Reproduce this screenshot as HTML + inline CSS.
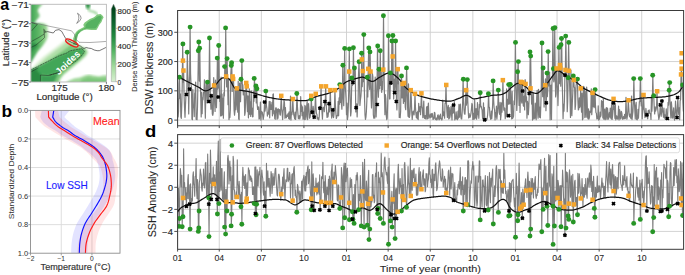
<!DOCTYPE html><html><head><meta charset="utf-8"><title>figure</title><style>html,body{margin:0;padding:0;background:#fff;width:685px;height:275px;overflow:hidden}svg{display:block}</style></head><body>
<svg width="685" height="275" viewBox="0 0 685 275" font-family='"Liberation Sans", sans-serif'>
<defs>
<clipPath id="cc"><rect x="177.6" y="10.5" width="506.0" height="115.3"/></clipPath>
<clipPath id="cd"><rect x="177.6" y="134.6" width="506.0" height="114.70000000000002"/></clipPath>
</defs>
<line x1="177.6" y1="10.5" x2="177.6" y2="125.8" stroke="#cecece" stroke-width="0.9"/>
<line x1="219.25" y1="10.5" x2="219.25" y2="125.8" stroke="#cecece" stroke-width="0.9"/>
<line x1="261.36" y1="10.5" x2="261.36" y2="125.8" stroke="#cecece" stroke-width="0.9"/>
<line x1="303.93" y1="10.5" x2="303.93" y2="125.8" stroke="#cecece" stroke-width="0.9"/>
<line x1="346.5" y1="10.5" x2="346.5" y2="125.8" stroke="#cecece" stroke-width="0.9"/>
<line x1="388.15" y1="10.5" x2="388.15" y2="125.8" stroke="#cecece" stroke-width="0.9"/>
<line x1="430.26" y1="10.5" x2="430.26" y2="125.8" stroke="#cecece" stroke-width="0.9"/>
<line x1="472.83" y1="10.5" x2="472.83" y2="125.8" stroke="#cecece" stroke-width="0.9"/>
<line x1="515.4" y1="10.5" x2="515.4" y2="125.8" stroke="#cecece" stroke-width="0.9"/>
<line x1="557.05" y1="10.5" x2="557.05" y2="125.8" stroke="#cecece" stroke-width="0.9"/>
<line x1="599.16" y1="10.5" x2="599.16" y2="125.8" stroke="#cecece" stroke-width="0.9"/>
<line x1="641.73" y1="10.5" x2="641.73" y2="125.8" stroke="#cecece" stroke-width="0.9"/>
<line x1="177.6" y1="120.1" x2="683.6" y2="120.1" stroke="#cecece" stroke-width="0.9"/>
<line x1="177.6" y1="90.83" x2="683.6" y2="90.83" stroke="#cecece" stroke-width="0.9"/>
<line x1="177.6" y1="61.56" x2="683.6" y2="61.56" stroke="#cecece" stroke-width="0.9"/>
<line x1="177.6" y1="32.29" x2="683.6" y2="32.29" stroke="#cecece" stroke-width="0.9"/>
<line x1="177.6" y1="134.6" x2="177.6" y2="249.3" stroke="#cecece" stroke-width="0.9"/>
<line x1="219.25" y1="134.6" x2="219.25" y2="249.3" stroke="#cecece" stroke-width="0.9"/>
<line x1="261.36" y1="134.6" x2="261.36" y2="249.3" stroke="#cecece" stroke-width="0.9"/>
<line x1="303.93" y1="134.6" x2="303.93" y2="249.3" stroke="#cecece" stroke-width="0.9"/>
<line x1="346.5" y1="134.6" x2="346.5" y2="249.3" stroke="#cecece" stroke-width="0.9"/>
<line x1="388.15" y1="134.6" x2="388.15" y2="249.3" stroke="#cecece" stroke-width="0.9"/>
<line x1="430.26" y1="134.6" x2="430.26" y2="249.3" stroke="#cecece" stroke-width="0.9"/>
<line x1="472.83" y1="134.6" x2="472.83" y2="249.3" stroke="#cecece" stroke-width="0.9"/>
<line x1="515.4" y1="134.6" x2="515.4" y2="249.3" stroke="#cecece" stroke-width="0.9"/>
<line x1="557.05" y1="134.6" x2="557.05" y2="249.3" stroke="#cecece" stroke-width="0.9"/>
<line x1="599.16" y1="134.6" x2="599.16" y2="249.3" stroke="#cecece" stroke-width="0.9"/>
<line x1="641.73" y1="134.6" x2="641.73" y2="249.3" stroke="#cecece" stroke-width="0.9"/>
<line x1="177.6" y1="231.42" x2="683.6" y2="231.42" stroke="#cecece" stroke-width="0.9"/>
<line x1="177.6" y1="209.36" x2="683.6" y2="209.36" stroke="#cecece" stroke-width="0.9"/>
<line x1="177.6" y1="187.3" x2="683.6" y2="187.3" stroke="#cecece" stroke-width="0.9"/>
<line x1="177.6" y1="165.24" x2="683.6" y2="165.24" stroke="#cecece" stroke-width="0.9"/>
<line x1="177.6" y1="143.18" x2="683.6" y2="143.18" stroke="#cecece" stroke-width="0.9"/>
<g clip-path="url(#cc)"><polyline points="177.60,98.21 178.06,116.94 178.53,111.52 178.99,84.15 179.45,77.20 179.91,98.65 180.38,93.94 180.84,116.82 181.30,118.37 181.76,104.88 182.23,85.85 182.69,44.00 183.15,82.05 183.62,70.50 184.08,95.30 184.54,107.70 185.00,117.28 185.47,105.04 185.93,96.10 186.39,94.50 186.85,89.54 187.32,52.20 187.78,74.12 188.24,81.95 188.71,113.90 189.17,88.56 189.63,78.25 190.09,27.10 190.56,73.60 191.02,84.35 191.48,87.46 191.94,119.07 192.41,119.66 192.87,89.51 193.33,107.74 193.80,105.05 194.26,116.61 194.72,93.38 195.18,92.08 195.65,82.12 196.11,119.30 196.57,116.02 197.04,119.63 197.50,106.22 197.96,80.30 198.42,50.70 198.89,42.00 199.35,81.05 199.81,48.20 200.27,84.15 200.74,97.17 201.20,116.91 201.66,92.25 202.13,113.64 202.59,97.79 203.05,99.80 203.51,92.56 203.98,92.33 204.44,79.85 204.90,101.40 205.36,118.26 205.83,91.15 206.29,81.68 206.75,87.77 207.22,103.00 207.68,82.10 208.14,101.10 208.60,101.50 209.07,83.16 209.53,38.00 209.99,79.05 210.45,99.57 210.92,109.16 211.38,95.80 211.84,94.21 212.31,114.02 212.77,115.36 213.23,112.64 213.69,77.64 214.16,85.40 214.62,101.98 215.08,111.42 215.54,80.19 216.01,94.99 216.47,107.70 216.93,92.20 217.40,58.10 217.86,89.10 218.32,86.53 218.78,45.50 219.25,82.80 219.71,101.45 220.17,95.26 220.63,115.93 221.10,77.00 221.56,115.76 222.02,94.08 222.49,114.95 222.95,98.39 223.41,118.14 223.87,92.48 224.34,96.03 224.80,66.60 225.26,78.61 225.72,27.90 226.19,74.00 226.65,86.98 227.11,58.60 227.58,80.50 228.04,104.72 228.50,79.33 228.96,119.61 229.43,116.59 229.89,117.41 230.35,109.18 230.82,73.71 231.28,65.50 231.74,62.80 232.20,91.45 232.67,76.40 233.13,78.90 233.59,82.16 234.05,109.80 234.52,115.22 234.98,111.23 235.44,87.11 235.91,109.63 236.37,99.76 236.83,88.30 237.29,104.20 237.76,112.15 238.22,81.13 238.68,118.83 239.14,119.78 239.61,83.01 240.07,101.51 240.53,101.69 241.00,79.20 241.46,83.52 241.92,60.60 242.38,90.35 242.85,84.79 243.31,94.87 243.77,92.64 244.23,91.02 244.70,115.29 245.16,112.66 245.62,99.39 246.09,82.90 246.55,86.30 247.01,103.20 247.47,111.65 247.94,95.96 248.40,117.84 248.86,110.02 249.32,88.90 249.79,114.28 250.25,102.21 250.71,116.41 251.18,90.86 251.64,114.13 252.10,108.16 252.56,116.83 253.03,116.68 253.49,91.77 253.95,101.34 254.41,78.40 254.88,89.10 255.34,96.30 255.80,85.90 256.27,103.00 256.73,88.80 257.19,104.45 257.65,109.40 258.12,108.38 258.58,106.89 259.04,119.06 259.50,118.65 259.97,111.58 260.43,101.98 260.89,120.08 261.36,111.46 261.82,113.52 262.28,112.03 262.74,115.78 263.21,119.34 263.67,116.48 264.13,111.95 264.60,102.00 265.06,111.05 265.52,107.05 265.98,91.10 266.45,105.60 266.91,108.50 267.37,116.05 267.83,112.73 268.30,114.31 268.76,109.44 269.22,101.45 269.69,117.79 270.15,101.72 270.61,109.41 271.07,105.15 271.54,109.28 272.00,102.26 272.46,115.78 272.92,94.49 273.39,93.97 273.85,113.81 274.31,110.66 274.78,118.67 275.24,119.25 275.70,108.06 276.16,107.80 276.63,110.69 277.09,119.18 277.55,108.99 278.01,118.12 278.48,108.83 278.94,111.07 279.40,109.66 279.87,114.15 280.33,115.24 280.79,107.81 281.25,95.80 281.72,107.37 282.18,114.02 282.64,119.56 283.10,111.24 283.57,108.90 284.03,100.02 284.49,102.96 284.96,118.29 285.42,107.57 285.88,116.95 286.34,117.75 286.81,115.21 287.27,116.49 287.73,114.73 288.19,113.43 288.66,118.57 289.12,111.86 289.58,119.14 290.05,115.81 290.51,96.08 290.97,120.05 291.43,112.37 291.90,114.67 292.36,110.61 292.82,99.00 293.28,109.55 293.75,114.82 294.21,116.27 294.67,118.81 295.14,112.20 295.60,119.40 296.06,114.78 296.52,108.13 296.99,93.50 297.45,106.80 297.91,113.45 298.38,118.75 298.84,116.84 299.30,115.72 299.76,118.82 300.23,116.93 300.69,96.72 301.15,111.44 301.61,105.03 302.08,115.61 302.54,106.75 303.00,119.17 303.47,112.10 303.93,114.20 304.39,119.60 304.85,105.45 305.32,106.30 305.78,119.42 306.24,116.46 306.70,106.16 307.17,101.32 307.63,119.57 308.09,105.71 308.56,103.61 309.02,109.50 309.48,118.26 309.94,117.55 310.41,115.24 310.87,109.16 311.33,99.00 311.79,107.95 312.26,112.20 312.72,116.15 313.18,106.31 313.65,112.74 314.11,117.10 314.57,114.84 315.03,107.36 315.50,93.80 315.96,106.95 316.42,113.52 316.88,114.05 317.35,119.04 317.81,117.54 318.27,118.42 318.74,119.91 319.20,116.97 319.66,107.22 320.12,108.20 320.59,104.23 321.05,86.30 321.51,103.20 321.97,111.65 322.44,119.04 322.90,108.19 323.36,107.25 323.83,107.24 324.29,111.73 324.75,101.50 325.21,104.89 325.68,86.30 326.14,103.20 326.60,111.65 327.06,117.48 327.53,113.10 327.99,116.82 328.45,112.72 328.92,103.70 329.38,111.90 329.84,106.60 330.30,90.10 330.77,105.10 331.23,112.60 331.69,118.06 332.16,115.09 332.62,109.90 333.08,115.00 333.54,117.55 334.01,114.10 334.47,106.60 334.93,90.10 335.39,105.10 335.86,112.60 336.32,118.51 336.78,117.04 337.25,115.44 337.71,115.50 338.17,101.26 338.63,115.81 339.10,97.75 339.56,104.12 340.02,84.60 340.48,102.35 340.95,86.30 341.41,103.20 341.87,109.14 342.34,95.44 342.80,65.30 343.26,92.70 343.72,105.76 344.19,87.84 344.65,48.40 345.11,84.25 345.57,90.76 346.04,98.53 346.50,114.61 346.96,102.98 347.43,119.60 347.89,116.49 348.35,105.86 348.81,88.06 349.28,48.90 349.74,84.50 350.20,102.30 350.66,115.94 351.13,111.66 351.59,89.09 352.05,77.90 352.52,85.45 352.98,82.40 353.44,47.70 353.90,83.90 354.37,68.00 354.83,73.96 355.29,70.53 355.75,111.90 356.22,107.70 356.68,103.75 357.14,117.00 357.61,105.53 358.07,103.07 358.53,74.41 358.99,61.80 359.46,78.33 359.92,105.52 360.38,99.96 360.84,96.67 361.31,90.00 361.77,53.20 362.23,86.65 362.70,71.00 363.16,81.62 363.62,34.60 364.08,77.35 364.55,98.72 365.01,115.06 365.47,119.43 365.94,117.21 366.40,111.52 366.86,100.79 367.32,77.20 367.79,97.01 368.25,68.80 368.71,48.00 369.17,84.05 369.64,89.41 370.10,51.90 370.56,71.50 371.03,95.80 371.49,107.95 371.95,97.72 372.41,73.66 372.88,76.74 373.34,114.55 373.80,118.07 374.26,115.90 374.73,118.14 375.19,77.04 375.65,86.07 376.12,116.98 376.58,105.28 377.04,86.75 377.50,46.00 377.97,83.05 378.43,97.24 378.89,69.30 379.35,85.28 379.82,88.87 380.28,50.70 380.74,85.40 381.21,72.03 381.67,92.36 382.13,81.82 382.59,89.37 383.06,69.60 383.52,15.70 383.98,67.90 384.44,94.00 384.91,114.65 385.37,94.52 385.83,98.80 386.30,115.99 386.76,119.58 387.22,117.98 387.68,103.24 388.15,82.16 388.61,35.80 389.07,77.95 389.53,99.02 390.00,98.86 390.46,72.90 390.92,82.90 391.39,84.50 391.85,41.00 392.31,80.55 392.77,35.50 393.24,77.80 393.70,98.95 394.16,79.10 394.62,92.60 395.09,84.50 395.55,41.00 396.01,80.55 396.48,100.32 396.94,109.90 397.40,68.91 397.86,69.10 398.33,83.81 398.79,81.64 399.25,117.48 399.72,116.91 400.18,117.81 400.64,111.26 401.10,79.26 401.57,75.90 402.03,98.00 402.49,83.90 402.95,90.79 403.42,103.36 403.88,82.90 404.34,101.50 404.81,87.88 405.27,107.18 405.73,109.66 406.19,81.70 406.66,67.90 407.12,94.00 407.58,107.05 408.04,116.30 408.51,83.89 408.97,117.36 409.43,117.43 409.90,114.10 410.36,106.60 410.82,90.10 411.28,97.72 411.75,112.60 412.21,119.42 412.67,114.43 413.13,111.03 413.60,112.08 414.06,114.84 414.52,108.27 414.99,93.80 415.45,106.95 415.91,113.52 416.37,117.66 416.84,112.48 417.30,118.74 417.76,111.30 418.22,119.55 418.69,103.23 419.15,111.32 419.61,111.68 420.08,106.51 420.54,114.74 421.00,104.76 421.46,93.30 421.93,106.70 422.39,108.58 422.85,117.76 423.31,109.39 423.78,101.09 424.24,117.48 424.70,118.39 425.17,115.51 425.63,118.52 426.09,119.06 426.55,107.34 427.02,106.52 427.48,118.78 427.94,108.37 428.40,103.02 428.87,118.33 429.33,117.12 429.79,116.71 430.26,114.16 430.72,117.79 431.18,113.73 431.64,116.93 432.11,113.25 432.57,114.92 433.03,119.47 433.50,117.87 433.96,118.79 434.42,112.38 434.88,112.93 435.35,119.06 435.81,119.52 436.27,119.89 436.73,117.81 437.20,119.79 437.66,115.35 438.12,114.76 438.59,118.42 439.05,119.85 439.51,115.77 439.97,119.06 440.44,114.21 440.90,118.34 441.36,118.53 441.82,120.03 442.29,118.48 442.75,100.03 443.21,115.66 443.68,111.94 444.14,114.46 444.60,118.13 445.06,103.17 445.53,103.29 445.99,84.90 446.45,102.50 446.91,111.30 447.38,117.42 447.84,107.93 448.30,105.32 448.77,118.87 449.23,107.66 449.69,118.12 450.15,115.86 450.62,110.56 451.08,106.29 451.54,114.71 452.00,120.02 452.47,104.41 452.93,113.30 453.39,105.00 453.86,112.55 454.32,101.50 454.78,119.90 455.24,118.79 455.71,118.65 456.17,111.78 456.63,118.30 457.09,119.44 457.56,119.65 458.02,111.13 458.48,118.07 458.95,104.42 459.41,117.22 459.87,108.00 460.33,104.02 460.80,116.55 461.26,118.99 461.72,119.02 462.18,111.92 462.65,101.69 463.11,79.20 463.57,99.65 464.04,109.88 464.50,113.85 464.96,114.10 465.42,106.60 465.89,90.10 466.35,105.10 466.81,101.88 467.28,79.60 467.74,99.85 468.20,109.97 468.66,118.01 469.13,113.57 469.59,116.74 470.05,117.37 470.51,115.75 470.98,113.30 471.44,109.31 471.90,103.44 472.37,104.59 472.83,119.46 473.29,113.29 473.75,119.25 474.22,119.21 474.68,99.92 475.14,118.15 475.60,117.38 476.07,108.72 476.53,119.21 476.99,116.44 477.46,102.68 477.92,114.65 478.38,111.65 478.84,118.30 479.31,104.35 479.77,107.81 480.23,92.80 480.69,106.45 481.16,106.14 481.62,108.42 482.08,110.14 482.55,118.19 483.01,119.07 483.47,102.82 483.93,119.10 484.40,107.55 484.86,119.80 485.32,119.73 485.78,118.88 486.25,118.83 486.71,119.94 487.17,118.49 487.64,114.84 488.10,108.27 488.56,93.80 489.02,106.95 489.49,107.56 489.95,115.89 490.41,118.08 490.87,119.45 491.34,111.08 491.80,118.37 492.26,112.26 492.73,102.46 493.19,80.90 493.65,100.50 494.11,107.76 494.58,109.93 495.04,119.91 495.50,112.76 495.96,116.85 496.43,106.21 496.89,119.06 497.35,114.10 497.82,106.60 498.28,90.10 498.74,105.06 499.20,112.60 499.67,114.44 500.13,102.43 500.59,119.64 501.06,115.41 501.52,102.73 501.98,112.10 502.44,102.10 502.91,80.10 503.37,100.10 503.83,109.97 504.29,110.52 504.76,107.98 505.22,118.76 505.68,114.16 506.15,116.12 506.61,88.92 507.07,116.88 507.53,99.58 508.00,99.27 508.46,104.12 508.92,84.60 509.38,102.35 509.85,104.03 510.31,84.40 510.77,93.37 511.24,111.17 511.70,118.95 512.16,91.43 512.62,118.39 513.09,117.51 513.55,116.01 514.01,100.94 514.47,104.56 514.94,85.13 515.40,42.40 515.86,81.25 516.33,93.94 516.79,110.44 517.25,98.36 517.71,71.80 518.18,61.60 518.64,90.85 519.10,105.47 519.56,81.61 520.03,112.44 520.49,91.15 520.95,81.80 521.42,100.95 521.88,103.09 522.34,82.30 522.80,91.00 523.27,105.55 523.73,106.30 524.19,96.05 524.65,110.01 525.12,79.68 525.58,83.90 526.04,102.00 526.51,96.94 526.97,118.23 527.43,101.45 527.89,104.15 528.36,114.74 528.82,106.81 529.28,93.30 529.74,89.41 530.21,51.90 530.67,56.10 531.13,88.10 531.60,104.10 532.06,91.66 532.52,120.05 532.98,114.87 533.45,92.90 533.91,119.10 534.37,117.84 534.84,118.17 535.30,103.15 535.76,116.42 536.22,119.66 536.69,97.87 537.15,90.23 537.61,110.51 538.07,118.25 538.54,89.33 539.00,106.54 539.46,117.25 539.93,106.99 540.39,117.81 540.85,104.68 541.31,85.41 541.78,43.00 542.24,81.55 542.70,96.66 543.16,68.00 543.63,94.05 544.09,107.07 544.55,89.63 545.02,85.20 545.48,78.96 545.94,110.70 546.40,98.95 546.87,73.10 547.33,96.60 547.79,89.27 548.25,51.60 548.72,85.85 549.18,80.34 549.64,72.08 550.11,119.86 550.57,86.95 551.03,85.12 551.49,119.56 551.96,81.83 552.42,78.88 552.88,28.50 553.34,68.80 553.81,81.80 554.27,78.52 554.73,27.70 555.20,73.90 555.66,97.00 556.12,93.97 556.58,68.40 557.05,84.74 557.51,87.73 557.97,105.56 558.43,87.38 558.90,47.40 559.36,83.75 559.82,65.00 560.29,68.10 560.75,86.22 561.21,44.80 561.67,38.50 562.14,79.30 562.60,96.32 563.06,118.65 563.52,104.43 563.99,111.12 564.45,99.89 564.91,75.20 565.38,69.90 565.84,36.10 566.30,66.86 566.76,83.02 567.23,111.64 567.69,101.06 568.15,77.80 568.62,42.40 569.08,68.84 569.54,82.43 570.00,96.65 570.47,117.46 570.93,70.20 571.39,108.62 571.85,115.68 572.32,103.06 572.78,92.91 573.24,76.00 573.71,79.90 574.17,87.16 574.63,87.59 575.09,109.52 575.56,104.93 576.02,86.03 576.48,82.63 576.94,84.18 577.41,79.10 577.87,99.60 578.33,109.85 578.80,109.02 579.26,97.90 579.72,107.41 580.18,105.79 580.65,88.30 581.11,104.20 581.57,112.15 582.03,92.98 582.50,119.82 582.96,118.84 583.42,86.27 583.89,95.38 584.35,87.13 584.81,117.61 585.27,91.44 585.74,108.07 586.20,117.25 586.66,87.12 587.12,99.91 587.59,117.08 588.05,118.84 588.51,108.84 588.98,119.11 589.44,117.16 589.90,111.01 590.36,112.72 590.83,110.67 591.29,88.82 591.75,114.64 592.21,107.81 592.68,92.80 593.14,106.45 593.60,94.53 594.07,107.71 594.53,106.38 594.99,89.60 595.45,104.85 595.92,112.47 596.38,113.30 596.84,119.02 597.30,118.27 597.77,118.60 598.23,105.84 598.69,120.04 599.16,117.49 599.62,119.06 600.08,111.98 600.54,116.86 601.01,114.98 601.47,100.55 601.93,106.10 602.40,101.72 602.86,117.95 603.32,98.54 603.78,119.14 604.25,118.91 604.71,109.17 605.17,119.74 605.63,118.63 606.10,108.21 606.56,107.69 607.02,119.45 607.49,108.01 607.95,113.91 608.41,119.14 608.87,117.49 609.34,112.51 609.80,116.82 610.26,107.98 610.72,118.04 611.19,118.76 611.65,102.14 612.11,119.38 612.58,115.84 613.04,110.52 613.50,98.80 613.96,109.45 614.43,105.99 614.89,118.35 615.35,103.99 615.81,119.86 616.28,118.34 616.74,115.86 617.20,118.43 617.67,119.03 618.13,116.48 618.59,106.21 619.05,120.01 619.52,109.66 619.98,111.58 620.44,118.87 620.90,118.72 621.37,111.46 621.83,112.84 622.29,117.30 622.76,119.41 623.22,118.46 623.68,116.50 624.14,118.64 624.61,114.27 625.07,118.77 625.53,117.97 625.99,97.35 626.46,113.64 626.92,119.22 627.38,116.12 627.85,110.48 628.31,100.20 628.77,107.97 629.23,115.12 629.70,116.91 630.16,114.04 630.62,118.26 631.08,118.33 631.55,96.13 632.01,119.53 632.47,115.77 632.94,111.80 633.40,101.42 633.86,78.60 634.32,99.35 634.79,109.72 635.25,118.86 635.71,106.13 636.18,102.47 636.64,119.47 637.10,119.81 637.56,119.06 638.03,109.25 638.49,118.20 638.95,108.33 639.41,101.49 639.88,101.42 640.34,78.60 640.80,99.35 641.27,105.91 641.73,93.70 642.19,118.80 642.65,110.43 643.12,108.76 643.58,94.90 644.04,107.50 644.50,113.15 644.97,117.65 645.43,116.21 645.89,108.44 646.36,113.49 646.82,114.90 647.28,117.50 647.74,118.80 648.21,110.67 648.67,112.14 649.13,109.78 649.59,113.03 650.06,113.56 650.52,113.87 650.98,119.48 651.45,95.81 651.91,111.12 652.37,99.89 652.83,75.20 653.30,97.65 653.76,95.70 654.22,107.90 654.68,114.00 655.15,106.95 655.61,111.22 656.07,109.42 656.54,107.09 657.00,91.20 657.46,105.65 657.92,111.27 658.39,115.57 658.85,119.51 659.31,117.06 659.77,113.26 660.24,104.90 660.70,112.50 661.16,116.28 661.63,111.50 662.09,101.00 662.55,110.55 663.01,113.15 663.48,117.06 663.94,108.12 664.40,118.02 664.86,114.88 665.33,119.52 665.79,118.30 666.25,108.88 666.72,116.32 667.18,118.50 667.64,115.37 668.10,102.29 668.57,105.07 669.03,90.20 669.49,82.60 669.96,101.35 670.42,110.72 670.88,118.06 671.34,101.73 671.81,107.41 672.27,118.06 672.73,118.02 673.19,112.18 673.66,107.89 674.12,117.93 674.58,120.09 675.05,115.70 675.51,101.01 675.97,108.57 676.43,113.28 676.90,117.50 677.36,109.93 677.82,97.50 678.28,108.80 678.75,114.45 679.21,107.79 679.67,119.62 680.14,100.83 680.60,99.53 681.06,74.40 681.52,68.60 681.99,86.65 682.45,84.90 682.91,102.50 683.37,111.30 683.84,111.50" fill="none" stroke="#7d7d7d" stroke-width="1.2" stroke-linejoin="round"/></g>
<g clip-path="url(#cd)"><polyline points="177.60,184.42 178.06,206.94 178.53,188.37 178.99,226.40 179.45,218.50 179.91,189.43 180.38,168.62 180.84,174.25 181.30,186.78 181.76,175.34 182.23,226.70 182.69,202.41 183.15,216.70 183.62,148.70 184.08,187.32 184.54,182.50 185.00,195.23 185.47,199.74 185.93,187.47 186.39,206.30 186.85,193.13 187.32,198.51 187.78,179.91 188.24,174.52 188.71,198.65 189.17,184.75 189.63,204.10 190.09,229.10 190.56,183.85 191.02,199.95 191.48,204.31 191.94,198.56 192.41,200.89 192.87,176.17 193.33,171.77 193.80,183.94 194.26,186.08 194.72,196.25 195.18,176.52 195.65,175.91 196.11,158.50 196.57,190.45 197.04,198.58 197.50,179.62 197.96,186.60 198.42,231.40 198.89,227.90 199.35,182.47 199.81,179.58 200.27,169.12 200.74,173.01 201.20,175.29 201.66,187.83 202.13,191.14 202.59,182.98 203.05,185.52 203.51,169.03 203.98,179.63 204.44,188.07 204.90,182.86 205.36,163.12 205.83,162.44 206.29,186.63 206.75,197.17 207.22,196.83 207.68,154.00 208.14,176.32 208.60,197.90 209.07,236.60 209.53,173.30 209.99,183.36 210.45,150.00 210.92,167.63 211.38,199.40 211.84,194.31 212.31,178.08 212.77,185.60 213.23,166.89 213.69,184.00 214.16,175.97 214.62,174.70 215.08,194.86 215.54,183.88 216.01,176.88 216.47,161.26 216.93,199.40 217.40,214.00 217.86,156.17 218.32,141.00 218.78,203.60 219.25,172.37 219.71,191.43 220.17,139.50 220.63,182.37 221.10,190.10 221.56,168.50 222.02,168.49 222.49,198.77 222.95,199.23 223.41,200.57 223.87,181.71 224.34,171.72 224.80,227.10 225.26,189.29 225.72,234.10 226.19,201.80 226.65,189.25 227.11,211.00 227.58,158.66 228.04,155.25 228.50,160.97 228.96,183.88 229.43,167.41 229.89,161.14 230.35,180.78 230.82,167.06 231.28,225.90 231.74,214.20 232.20,175.70 232.67,202.30 233.13,156.42 233.59,161.63 234.05,189.63 234.52,190.20 234.98,198.76 235.44,195.82 235.91,198.29 236.37,191.68 236.83,196.90 237.29,159.75 237.76,184.39 238.22,185.24 238.68,194.78 239.14,181.20 239.61,189.53 240.07,204.12 240.53,194.87 241.00,206.80 241.46,192.20 241.92,224.20 242.38,178.95 242.85,167.31 243.31,176.37 243.77,185.50 244.23,175.96 244.70,188.41 245.16,179.96 245.62,174.58 246.09,201.80 246.55,198.60 247.01,182.70 247.47,195.39 247.94,183.11 248.40,167.89 248.86,170.06 249.32,170.34 249.79,180.31 250.25,177.24 250.71,175.94 251.18,181.36 251.64,177.97 252.10,181.64 252.56,194.39 253.03,194.53 253.49,186.77 253.95,191.62 254.41,203.60 254.88,167.09 255.34,213.50 255.80,166.85 256.27,214.70 256.73,204.30 257.19,169.88 257.65,182.45 258.12,186.13 258.58,174.51 259.04,171.67 259.50,174.90 259.97,167.38 260.43,188.58 260.89,201.29 261.36,176.45 261.82,170.01 262.28,175.76 262.74,178.49 263.21,191.94 263.67,195.20 264.13,181.73 264.60,206.10 265.06,191.13 265.52,200.69 265.98,216.20 266.45,163.39 266.91,187.04 267.37,183.43 267.83,170.80 268.30,186.97 268.76,178.96 269.22,178.41 269.69,189.00 270.15,196.32 270.61,185.25 271.07,171.58 271.54,174.99 272.00,193.54 272.46,186.19 272.92,173.57 273.39,185.28 273.85,176.97 274.31,184.98 274.78,174.05 275.24,168.91 275.70,168.26 276.16,179.89 276.63,187.84 277.09,194.96 277.55,195.89 278.01,186.43 278.48,174.62 278.94,174.12 279.40,176.31 279.87,188.25 280.33,195.66 280.79,200.29 281.25,194.10 281.72,187.04 282.18,191.55 282.64,177.04 283.10,188.74 283.57,175.02 284.03,168.43 284.49,187.29 284.96,199.33 285.42,187.83 285.88,179.83 286.34,181.73 286.81,180.45 287.27,168.38 287.73,168.39 288.19,181.68 288.66,178.37 289.12,180.00 289.58,172.36 290.05,176.38 290.51,198.04 290.97,183.54 291.43,183.98 291.90,174.57 292.36,173.77 292.82,200.60 293.28,175.40 293.75,168.95 294.21,166.54 294.67,177.90 295.14,195.71 295.60,190.41 296.06,197.41 296.52,196.48 296.99,212.30 297.45,184.39 297.91,186.11 298.38,192.11 298.84,195.45 299.30,201.80 299.76,191.03 300.23,194.76 300.69,202.55 301.15,200.00 301.61,181.34 302.08,180.99 302.54,199.06 303.00,179.76 303.47,178.08 303.93,175.40 304.39,186.54 304.85,191.06 305.32,176.67 305.78,190.89 306.24,172.60 306.70,184.86 307.17,171.88 307.63,167.48 308.09,165.89 308.56,183.76 309.02,177.78 309.48,169.31 309.94,182.38 310.41,192.79 310.87,196.97 311.33,209.80 311.79,161.90 312.26,206.10 312.72,177.95 313.18,173.81 313.65,182.37 314.11,210.30 314.57,186.51 315.03,190.20 315.50,189.90 315.96,178.15 316.42,189.24 316.88,194.92 317.35,183.08 317.81,193.08 318.27,188.76 318.74,182.09 319.20,194.12 319.66,174.90 320.12,209.80 320.59,201.21 321.05,201.80 321.51,176.91 321.97,176.83 322.44,178.74 322.90,162.21 323.36,187.55 323.83,192.61 324.29,181.76 324.75,206.10 325.21,175.54 325.68,185.44 326.14,202.80 326.60,198.43 327.06,187.00 327.53,192.94 327.99,194.71 328.45,179.18 328.92,210.50 329.38,176.17 329.84,178.74 330.30,188.25 330.77,202.80 331.23,171.81 331.69,169.52 332.16,164.11 332.62,206.10 333.08,177.27 333.54,181.13 334.01,172.10 334.47,182.00 334.93,177.03 335.39,165.60 335.86,172.29 336.32,177.03 336.78,185.66 337.25,200.09 337.71,200.90 338.17,184.92 338.63,185.14 339.10,203.10 339.56,201.75 340.02,208.50 340.48,204.96 340.95,197.40 341.41,167.63 341.87,173.11 342.34,176.17 342.80,227.90 343.26,189.78 343.72,167.94 344.19,162.96 344.65,217.70 345.11,169.67 345.57,163.18 346.04,181.65 346.50,176.79 346.96,168.74 347.43,168.20 347.89,182.30 348.35,202.98 348.81,206.94 349.28,219.70 349.74,189.02 350.20,177.79 350.66,187.53 351.13,182.58 351.59,179.23 352.05,192.13 352.52,211.80 352.98,219.20 353.44,194.51 353.90,223.40 354.37,206.93 354.83,184.57 355.29,211.80 355.75,187.32 356.22,175.37 356.68,180.07 357.14,172.55 357.61,177.14 358.07,192.21 358.53,209.80 358.99,194.37 359.46,200.70 359.92,192.64 360.38,175.53 360.84,200.38 361.31,225.90 361.77,205.10 362.23,191.40 362.70,162.25 363.16,170.25 363.62,197.03 364.08,227.10 364.55,159.27 365.01,190.37 365.47,199.56 365.94,200.72 366.40,180.94 366.86,188.84 367.32,225.20 367.79,203.80 368.25,178.19 368.71,170.31 369.17,239.60 369.64,229.10 370.10,197.51 370.56,198.60 371.03,206.94 371.49,199.97 371.95,201.98 372.41,174.68 372.88,174.53 373.34,197.84 373.80,195.02 374.26,202.73 374.73,201.10 375.19,177.52 375.65,173.02 376.12,176.34 376.58,162.92 377.04,209.30 377.50,213.50 377.97,208.50 378.43,171.95 378.89,182.51 379.35,177.91 379.82,184.67 380.28,218.50 380.74,186.37 381.21,152.00 381.67,176.61 382.13,172.57 382.59,176.07 383.06,192.40 383.52,223.40 383.98,169.35 384.44,158.92 384.91,157.00 385.37,168.58 385.83,170.92 386.30,174.97 386.76,172.52 387.22,180.54 387.68,183.65 388.15,167.00 388.61,244.30 389.07,158.30 389.53,187.44 390.00,199.68 390.46,220.90 390.92,214.70 391.39,203.34 391.85,191.41 392.31,227.10 392.77,199.40 393.24,203.49 393.70,184.96 394.16,173.73 394.62,218.50 395.09,238.60 395.55,190.44 396.01,188.11 396.48,218.50 396.94,188.90 397.40,211.80 397.86,173.88 398.33,164.22 398.79,178.97 399.25,193.67 399.72,186.34 400.18,178.65 400.64,186.99 401.10,185.47 401.57,211.00 402.03,168.58 402.49,196.40 402.95,187.65 403.42,184.60 403.88,199.90 404.34,164.68 404.81,162.43 405.27,174.30 405.73,189.90 406.19,201.36 406.66,207.30 407.12,190.70 407.58,184.42 408.04,166.63 408.51,182.07 408.97,185.12 409.43,194.77 409.90,181.51 410.36,158.39 410.82,195.90 411.28,180.22 411.75,170.41 412.21,190.19 412.67,173.35 413.13,169.82 413.60,177.70 414.06,168.25 414.52,183.98 414.99,184.20 415.45,180.09 415.91,174.09 416.37,194.48 416.84,195.44 417.30,184.33 417.76,194.91 418.22,187.85 418.69,173.12 419.15,167.50 419.61,183.32 420.08,188.92 420.54,171.85 421.00,190.05 421.46,189.20 421.93,185.58 422.39,176.98 422.85,173.25 423.31,169.70 423.78,185.01 424.24,185.21 424.70,178.86 425.17,191.77 425.63,190.20 426.09,173.51 426.55,177.79 427.02,173.71 427.48,186.64 427.94,181.71 428.40,179.42 428.87,163.62 429.33,157.78 429.79,174.18 430.26,175.31 430.72,182.44 431.18,179.24 431.64,187.82 432.11,170.07 432.57,169.26 433.03,193.58 433.50,197.50 433.96,174.15 434.42,176.82 434.88,180.62 435.35,165.68 435.81,162.89 436.27,175.19 436.73,190.66 437.20,188.90 437.66,184.73 438.12,175.10 438.59,170.27 439.05,165.04 439.51,160.79 439.97,163.87 440.44,175.39 440.90,180.17 441.36,181.16 441.82,178.78 442.29,168.84 442.75,171.05 443.21,186.95 443.68,180.31 444.14,181.80 444.60,176.24 445.06,189.54 445.53,178.95 445.99,192.90 446.45,188.04 446.91,194.57 447.38,188.82 447.84,182.47 448.30,171.46 448.77,170.07 449.23,180.77 449.69,195.12 450.15,179.09 450.62,167.17 451.08,188.93 451.54,182.26 452.00,173.22 452.47,176.58 452.93,174.08 453.39,200.30 453.86,199.51 454.32,189.87 454.78,182.57 455.24,196.47 455.71,200.94 456.17,198.27 456.63,202.46 457.09,190.12 457.56,194.87 458.02,184.42 458.48,187.10 458.95,181.18 459.41,188.86 459.87,176.15 460.33,167.64 460.80,194.20 461.26,194.95 461.72,181.48 462.18,189.52 462.65,176.90 463.11,211.00 463.57,205.04 464.04,185.09 464.50,194.35 464.96,177.70 465.42,177.54 465.89,204.30 466.35,179.73 466.81,188.62 467.28,204.80 467.74,161.11 468.20,160.60 468.66,162.23 469.13,186.28 469.59,206.84 470.05,195.73 470.51,187.01 470.98,180.90 471.44,183.11 471.90,169.32 472.37,166.33 472.83,161.66 473.29,169.98 473.75,165.86 474.22,195.22 474.68,206.86 475.14,196.64 475.60,177.30 476.07,175.97 476.53,199.98 476.99,206.13 477.46,202.03 477.92,176.07 478.38,182.18 478.84,176.16 479.31,160.71 479.77,161.42 480.23,219.90 480.69,176.56 481.16,197.87 481.62,201.01 482.08,206.95 482.55,180.34 483.01,179.88 483.47,186.76 483.93,186.41 484.40,210.90 484.86,184.46 485.32,175.57 485.78,187.81 486.25,204.76 486.71,205.81 487.17,201.33 487.64,176.38 488.10,210.00 488.56,194.25 489.02,188.71 489.49,172.48 489.95,194.43 490.41,202.80 490.87,178.21 491.34,186.36 491.80,178.26 492.26,175.03 492.73,168.93 493.19,224.00 493.65,204.43 494.11,193.82 494.58,185.73 495.04,196.52 495.50,187.46 495.96,168.64 496.43,165.52 496.89,171.86 497.35,185.40 497.82,194.37 498.28,212.40 498.74,169.37 499.20,178.48 499.67,172.95 500.13,169.18 500.59,184.33 501.06,198.38 501.52,180.84 501.98,187.08 502.44,192.85 502.91,185.30 503.37,193.26 503.83,153.00 504.29,178.21 504.76,169.94 505.22,183.49 505.68,193.82 506.15,191.05 506.61,199.99 507.07,200.65 507.53,195.21 508.00,189.52 508.46,194.74 508.92,216.00 509.38,182.49 509.85,215.60 510.31,183.29 510.77,202.01 511.24,195.90 511.70,181.76 512.16,180.59 512.62,180.31 513.09,179.35 513.55,189.54 514.01,199.52 514.47,206.67 514.94,197.98 515.40,237.30 515.86,193.03 516.33,173.40 516.79,193.65 517.25,186.35 517.71,220.70 518.18,214.80 518.64,186.63 519.10,163.00 519.56,184.92 520.03,208.60 520.49,206.07 520.95,204.89 521.42,192.59 521.88,206.50 522.34,218.20 522.80,189.03 523.27,193.37 523.73,204.70 524.19,205.97 524.65,187.64 525.12,184.17 525.58,178.85 526.04,190.50 526.51,188.48 526.97,197.44 527.43,179.52 527.89,172.14 528.36,181.23 528.82,210.90 529.28,181.27 529.74,182.44 530.21,236.00 530.67,229.10 531.13,178.42 531.60,194.19 532.06,184.05 532.52,178.66 532.98,189.63 533.45,198.03 533.91,182.98 534.37,189.52 534.84,180.32 535.30,176.57 535.76,195.53 536.22,198.49 536.69,194.51 537.15,195.60 537.61,188.68 538.07,192.36 538.54,176.80 539.00,163.98 539.46,167.53 539.93,169.48 540.39,163.97 540.85,159.65 541.31,182.17 541.78,231.80 542.24,187.98 542.70,200.11 543.16,209.40 543.63,187.15 544.09,171.77 544.55,158.32 545.02,193.10 545.48,187.50 545.94,166.25 546.40,203.60 546.87,206.30 547.33,183.13 547.79,225.50 548.25,182.43 548.72,154.50 549.18,164.15 549.64,186.12 550.11,155.50 550.57,205.01 551.03,205.25 551.49,203.98 551.96,173.84 552.42,177.16 552.88,244.40 553.34,182.69 553.81,166.35 554.27,226.00 554.73,194.15 555.20,191.16 555.66,201.05 556.12,199.83 556.58,153.00 557.05,198.72 557.51,197.90 557.97,180.25 558.43,183.68 558.90,209.40 559.36,193.04 559.82,185.90 560.29,203.10 560.75,185.43 561.21,226.80 561.67,185.61 562.14,186.72 562.60,170.17 563.06,180.43 563.52,196.76 563.99,206.80 564.45,198.95 564.91,235.20 565.38,153.00 565.84,228.10 566.30,171.72 566.76,181.68 567.23,172.47 567.69,180.61 568.15,216.00 568.62,219.40 569.08,174.96 569.54,169.92 570.00,177.89 570.47,197.15 570.93,192.15 571.39,175.83 571.85,199.05 572.32,206.79 572.78,174.24 573.24,222.00 573.71,204.40 574.17,188.88 574.63,181.66 575.09,180.21 575.56,205.67 576.02,204.84 576.48,197.23 576.94,206.47 577.41,214.70 577.87,173.32 578.33,193.33 578.80,192.03 579.26,173.90 579.72,180.02 580.18,187.71 580.65,198.40 581.11,192.82 581.57,193.72 582.03,178.60 582.50,191.62 582.96,206.61 583.42,187.60 583.89,192.07 584.35,197.11 584.81,184.51 585.27,194.59 585.74,178.53 586.20,188.39 586.66,194.63 587.12,198.36 587.59,178.04 588.05,186.96 588.51,182.47 588.98,177.22 589.44,172.70 589.90,187.09 590.36,184.36 590.83,164.99 591.29,170.32 591.75,191.39 592.21,181.51 592.68,199.70 593.14,185.86 593.60,176.35 594.07,188.15 594.53,208.40 594.99,217.30 595.45,187.30 595.92,190.31 596.38,197.25 596.84,188.42 597.30,176.17 597.77,192.44 598.23,185.69 598.69,191.76 599.16,191.53 599.62,185.81 600.08,191.88 600.54,198.51 601.01,191.39 601.47,184.35 601.93,178.05 602.40,187.16 602.86,183.11 603.32,187.70 603.78,197.69 604.25,186.63 604.71,186.31 605.17,198.02 605.63,182.27 606.10,173.42 606.56,161.46 607.02,176.27 607.49,183.25 607.95,191.96 608.41,178.04 608.87,167.52 609.34,162.18 609.80,182.44 610.26,184.84 610.72,169.04 611.19,188.69 611.65,181.76 612.11,170.96 612.58,164.65 613.04,179.13 613.50,191.00 613.96,174.72 614.43,185.03 614.89,197.85 615.35,176.45 615.81,177.11 616.28,194.26 616.74,189.49 617.20,177.60 617.67,183.22 618.13,188.82 618.59,164.50 619.05,162.86 619.52,163.17 619.98,162.18 620.44,179.71 620.90,183.88 621.37,185.64 621.83,186.75 622.29,190.57 622.76,175.60 623.22,182.61 623.68,185.05 624.14,178.29 624.61,165.75 625.07,180.37 625.53,180.11 625.99,186.87 626.46,179.49 626.92,176.49 627.38,189.98 627.85,187.83 628.31,195.80 628.77,191.53 629.23,199.68 629.70,201.55 630.16,181.99 630.62,173.71 631.08,181.88 631.55,185.94 632.01,185.23 632.47,186.99 632.94,187.61 633.40,173.08 633.86,223.40 634.32,203.15 634.79,203.37 635.25,199.23 635.71,189.48 636.18,186.23 636.64,177.12 637.10,177.70 637.56,193.27 638.03,197.31 638.49,187.84 638.95,200.11 639.41,192.55 639.88,179.94 640.34,219.40 640.80,191.17 641.27,183.38 641.73,182.75 642.19,179.19 642.65,197.76 643.12,191.04 643.58,205.00 644.04,201.53 644.50,190.11 644.97,184.75 645.43,163.25 645.89,156.28 646.36,155.89 646.82,211.00 647.28,167.51 647.74,183.77 648.21,179.14 648.67,183.12 649.13,171.75 649.59,187.00 650.06,194.01 650.52,204.01 650.98,201.95 651.45,185.48 651.91,192.30 652.37,185.93 652.83,231.80 653.30,196.99 653.76,217.60 654.22,164.60 654.68,205.82 655.15,191.24 655.61,171.14 656.07,172.13 656.54,167.18 657.00,206.80 657.46,179.71 657.92,177.89 658.39,199.79 658.85,186.91 659.31,188.15 659.77,195.55 660.24,211.50 660.70,179.97 661.16,186.93 661.63,172.63 662.09,211.00 662.55,190.15 663.01,197.75 663.48,178.04 663.94,164.18 664.40,167.41 664.86,167.36 665.33,169.16 665.79,178.30 666.25,171.30 666.72,161.15 667.18,209.40 667.64,180.34 668.10,183.71 668.57,216.80 669.03,193.47 669.49,206.30 669.96,172.38 670.42,162.59 670.88,163.25 671.34,198.48 671.81,206.68 672.27,204.69 672.73,186.72 673.19,185.87 673.66,167.51 674.12,185.43 674.58,174.30 675.05,159.69 675.51,168.34 675.97,175.58 676.43,159.60 676.90,182.80 677.36,176.35 677.82,203.60 678.28,168.77 678.75,177.52 679.21,191.79 679.67,188.35 680.14,176.61 680.60,161.50 681.06,198.40 681.52,205.00 681.99,162.84 682.45,215.50 682.91,184.72 683.37,176.93 683.84,162.20" fill="none" stroke="#7d7d7d" stroke-width="1.1" stroke-linejoin="round"/></g>
<path d="M177.7,76.50 L178.7,77.03 L179.7,77.56 L180.7,78.09 L181.7,78.62 L182.7,79.14 L183.7,79.67 L184.7,80.19 L185.7,80.71 L186.7,81.22 L187.7,81.74 L188.7,82.25 L189.7,82.77 L190.7,83.28 L191.7,83.78 L192.7,84.29 L193.7,84.80 L194.7,85.30 L195.7,85.80 L196.7,86.30 L197.7,86.80 L198.7,87.31 L199.7,87.90 L200.7,88.55 L201.7,89.20 L202.7,89.80 L203.7,90.30 L204.7,90.65 L205.7,90.80 L206.7,90.71 L207.7,90.43 L208.7,89.98 L209.7,89.42 L210.7,88.78 L211.7,88.11 L212.7,87.43 L213.7,86.74 L214.7,85.84 L215.7,84.74 L216.7,83.53 L217.7,82.27 L218.7,81.04 L219.7,79.92 L220.7,78.98 L221.7,78.29 L222.7,77.93 L223.7,77.91 L224.7,77.96 L225.7,78.05 L226.7,78.18 L227.7,78.33 L228.7,78.66 L229.7,79.68 L230.7,81.24 L231.7,83.09 L232.7,85.02 L233.7,86.77 L234.7,88.12 L235.7,88.84 L236.7,89.21 L237.7,89.54 L238.7,89.82 L239.7,90.06 L240.7,90.28 L241.7,90.46 L242.7,90.63 L243.7,90.79 L244.7,90.94 L245.7,91.09 L246.7,91.25 L247.7,91.42 L248.7,91.61 L249.7,91.83 L250.7,92.08 L251.7,92.35 L252.7,92.64 L253.7,92.95 L254.7,93.27 L255.7,93.60 L256.7,93.93 L257.7,94.27 L258.7,94.59 L259.7,94.91 L260.7,95.22 L261.7,95.51 L262.7,95.77 L263.7,96.03 L264.7,96.29 L265.7,96.54 L266.7,96.79 L267.7,97.04 L268.7,97.29 L269.7,97.53 L270.7,97.76 L271.7,97.98 L272.7,98.19 L273.7,98.38 L274.7,98.56 L275.7,98.73 L276.7,98.87 L277.7,99.00 L278.7,99.11 L279.7,99.22 L280.7,99.32 L281.7,99.42 L282.7,99.51 L283.7,99.60 L284.7,99.68 L285.7,99.76 L286.7,99.84 L287.7,99.91 L288.7,99.97 L289.7,100.03 L290.7,100.09 L291.7,100.15 L292.7,100.21 L293.7,100.26 L294.7,100.32 L295.7,100.37 L296.7,100.43 L297.7,100.48 L298.7,100.53 L299.7,100.57 L300.7,100.61 L301.7,100.65 L302.7,100.67 L303.7,100.69 L304.7,100.70 L305.7,100.66 L306.7,100.49 L307.7,100.21 L308.7,99.83 L309.7,99.40 L310.7,98.92 L311.7,98.42 L312.7,97.94 L313.7,97.49 L314.7,97.10 L315.7,96.78 L316.7,96.48 L317.7,96.20 L318.7,95.93 L319.7,95.67 L320.7,95.42 L321.7,95.17 L322.7,94.92 L323.7,94.67 L324.7,94.41 L325.7,94.13 L326.7,93.84 L327.7,93.53 L328.7,93.20 L329.7,92.84 L330.7,92.45 L331.7,92.03 L332.7,91.57 L333.7,91.09 L334.7,90.57 L335.7,90.03 L336.7,89.45 L337.7,88.85 L338.7,88.22 L339.7,87.57 L340.7,86.81 L341.7,85.89 L342.7,84.89 L343.7,83.89 L344.7,82.99 L345.7,82.27 L346.7,81.75 L347.7,81.29 L348.7,80.87 L349.7,80.49 L350.7,80.15 L351.7,79.82 L352.7,79.52 L353.7,79.24 L354.7,78.96 L355.7,78.67 L356.7,78.36 L357.7,78.05 L358.7,77.77 L359.7,77.52 L360.7,77.33 L361.7,77.22 L362.7,77.22 L363.7,77.42 L364.7,77.81 L365.7,78.33 L366.7,78.92 L367.7,79.55 L368.7,80.16 L369.7,80.70 L370.7,81.11 L371.7,81.36 L372.7,81.37 L373.7,81.11 L374.7,80.62 L375.7,79.97 L376.7,79.24 L377.7,78.48 L378.7,77.78 L379.7,77.20 L380.7,76.68 L381.7,76.11 L382.7,75.53 L383.7,74.96 L384.7,74.41 L385.7,73.92 L386.7,73.49 L387.7,73.17 L388.7,72.96 L389.7,72.90 L390.7,73.05 L391.7,73.40 L392.7,73.93 L393.7,74.58 L394.7,75.32 L395.7,76.10 L396.7,76.89 L397.7,77.70 L398.7,78.70 L399.7,79.86 L400.7,81.15 L401.7,82.50 L402.7,83.87 L403.7,85.22 L404.7,86.48 L405.7,87.61 L406.7,88.56 L407.7,89.33 L408.7,90.07 L409.7,90.77 L410.7,91.43 L411.7,92.07 L412.7,92.67 L413.7,93.23 L414.7,93.77 L415.7,94.26 L416.7,94.73 L417.7,95.15 L418.7,95.55 L419.7,95.90 L420.7,96.24 L421.7,96.56 L422.7,96.87 L423.7,97.17 L424.7,97.45 L425.7,97.72 L426.7,97.97 L427.7,98.21 L428.7,98.44 L429.7,98.66 L430.7,98.86 L431.7,99.06 L432.7,99.24 L433.7,99.40 L434.7,99.56 L435.7,99.72 L436.7,99.88 L437.7,100.04 L438.7,100.20 L439.7,100.35 L440.7,100.50 L441.7,100.63 L442.7,100.76 L443.7,100.88 L444.7,100.98 L445.7,101.06 L446.7,101.13 L447.7,101.17 L448.7,101.20 L449.7,101.19 L450.7,101.09 L451.7,100.90 L452.7,100.64 L453.7,100.33 L454.7,99.97 L455.7,99.59 L456.7,99.20 L457.7,98.81 L458.7,98.44 L459.7,98.07 L460.7,97.61 L461.7,97.09 L462.7,96.56 L463.7,96.06 L464.7,95.66 L465.7,95.39 L466.7,95.30 L467.7,95.51 L468.7,95.99 L469.7,96.63 L470.7,97.33 L471.7,98.00 L472.7,98.51 L473.7,98.78 L474.7,98.78 L475.7,98.70 L476.7,98.57 L477.7,98.39 L478.7,98.18 L479.7,97.95 L480.7,97.71 L481.7,97.47 L482.7,97.24 L483.7,97.04 L484.7,96.85 L485.7,96.65 L486.7,96.44 L487.7,96.23 L488.7,96.02 L489.7,95.82 L490.7,95.63 L491.7,95.46 L492.7,95.32 L493.7,95.21 L494.7,95.13 L495.7,95.07 L496.7,95.02 L497.7,94.98 L498.7,94.92 L499.7,94.83 L500.7,94.69 L501.7,94.42 L502.7,94.05 L503.7,93.61 L504.7,93.11 L505.7,92.59 L506.7,91.91 L507.7,91.06 L508.7,90.10 L509.7,89.09 L510.7,88.09 L511.7,87.18 L512.7,86.40 L513.7,85.66 L514.7,84.89 L515.7,84.19 L516.7,83.63 L517.7,83.33 L518.7,83.33 L519.7,83.52 L520.7,83.86 L521.7,84.32 L522.7,84.87 L523.7,85.49 L524.7,86.14 L525.7,86.80 L526.7,87.57 L527.7,88.68 L528.7,89.93 L529.7,91.11 L530.7,92.00 L531.7,92.43 L532.7,92.72 L533.7,92.97 L534.7,93.15 L535.7,93.27 L536.7,93.29 L537.7,93.06 L538.7,92.55 L539.7,91.81 L540.7,90.89 L541.7,89.87 L542.7,88.79 L543.7,87.72 L544.7,86.69 L545.7,85.55 L546.7,84.27 L547.7,82.89 L548.7,81.45 L549.7,80.00 L550.7,78.59 L551.7,77.25 L552.7,75.99 L553.7,74.56 L554.7,73.09 L555.7,71.81 L556.7,70.94 L557.7,70.71 L558.7,70.89 L559.7,71.29 L560.7,71.86 L561.7,72.54 L562.7,73.28 L563.7,74.04 L564.7,74.75 L565.7,75.38 L566.7,75.97 L567.7,76.57 L568.7,77.16 L569.7,77.76 L570.7,78.37 L571.7,78.99 L572.7,79.63 L573.7,80.28 L574.7,80.96 L575.7,81.66 L576.7,82.40 L577.7,83.23 L578.7,84.11 L579.7,85.00 L580.7,85.90 L581.7,86.75 L582.7,87.54 L583.7,88.24 L584.7,88.84 L585.7,89.40 L586.7,89.91 L587.7,90.40 L588.7,90.87 L589.7,91.34 L590.7,91.81 L591.7,92.30 L592.7,92.81 L593.7,93.32 L594.7,93.83 L595.7,94.34 L596.7,94.84 L597.7,95.33 L598.7,95.80 L599.7,96.24 L600.7,96.68 L601.7,97.13 L602.7,97.57 L603.7,98.01 L604.7,98.43 L605.7,98.84 L606.7,99.21 L607.7,99.55 L608.7,99.86 L609.7,100.11 L610.7,100.32 L611.7,100.53 L612.7,100.74 L613.7,100.93 L614.7,101.11 L615.7,101.28 L616.7,101.42 L617.7,101.54 L618.7,101.63 L619.7,101.68 L620.7,101.70 L621.7,101.67 L622.7,101.60 L623.7,101.49 L624.7,101.36 L625.7,101.19 L626.7,101.02 L627.7,100.83 L628.7,100.64 L629.7,100.45 L630.7,100.27 L631.7,100.09 L632.7,99.90 L633.7,99.68 L634.7,99.44 L635.7,99.20 L636.7,98.97 L637.7,98.74 L638.7,98.53 L639.7,98.35 L640.7,98.20 L641.7,98.09 L642.7,98.01 L643.7,97.94 L644.7,97.87 L645.7,97.81 L646.7,97.76 L647.7,97.71 L648.7,97.66 L649.7,97.62 L650.7,97.57 L651.7,97.52 L652.7,97.47 L653.7,97.42 L654.7,97.38 L655.7,97.35 L656.7,97.31 L657.7,97.27 L658.7,97.23 L659.7,97.18 L660.7,97.13 L661.7,97.06 L662.7,96.99 L663.7,96.90 L664.7,96.79 L665.7,96.65 L666.7,96.48 L667.7,96.30 L668.7,96.09 L669.7,95.86 L670.7,95.61 L671.7,95.34 L672.7,95.05 L673.7,94.74 L674.7,94.35 L675.7,93.88 L676.7,93.32 L677.7,92.66 L678.7,91.89 L679.7,91.00 L680.7,89.73 L681.7,87.95 L682.7,85.82" fill="none" stroke="#111" stroke-width="1.25"/>
<path d="M177.6,211.80 L178.6,210.42 L179.6,209.15 L180.6,208.12 L181.6,207.39 L182.6,206.76 L183.6,206.20 L184.6,205.70 L185.6,205.26 L186.6,204.87 L187.6,204.54 L188.6,204.25 L189.6,204.01 L190.6,203.81 L191.6,203.65 L192.6,203.49 L193.6,203.33 L194.6,203.13 L195.6,202.89 L196.6,202.56 L197.6,202.10 L198.6,201.54 L199.6,200.92 L200.6,200.27 L201.6,199.61 L202.6,199.00 L203.6,198.44 L204.6,197.84 L205.6,197.19 L206.6,196.52 L207.6,195.85 L208.6,195.22 L209.6,194.66 L210.6,194.18 L211.6,193.83 L212.6,193.63 L213.6,193.63 L214.6,193.98 L215.6,194.62 L216.6,195.45 L217.6,196.37 L218.6,197.26 L219.6,198.05 L220.6,198.92 L221.6,199.90 L222.6,200.87 L223.6,201.73 L224.6,202.34 L225.6,202.60 L226.6,202.64 L227.6,202.66 L228.6,202.68 L229.6,202.69 L230.6,202.70 L231.6,202.71 L232.6,202.73 L233.6,202.74 L234.6,202.77 L235.6,202.80 L236.6,202.90 L237.6,203.08 L238.6,203.27 L239.6,203.39 L240.6,203.39 L241.6,203.33 L242.6,203.24 L243.6,203.13 L244.6,203.00 L245.6,202.89 L246.6,202.77 L247.6,202.65 L248.6,202.51 L249.6,202.37 L250.6,202.22 L251.6,202.07 L252.6,201.93 L253.6,201.78 L254.6,201.64 L255.6,201.50 L256.6,201.36 L257.6,201.21 L258.6,201.07 L259.6,200.92 L260.6,200.78 L261.6,200.64 L262.6,200.51 L263.6,200.39 L264.6,200.27 L265.6,200.17 L266.6,200.06 L267.6,199.96 L268.6,199.85 L269.6,199.74 L270.6,199.65 L271.6,199.56 L272.6,199.49 L273.6,199.44 L274.6,199.41 L275.6,199.40 L276.6,199.41 L277.6,199.43 L278.6,199.46 L279.6,199.50 L280.6,199.56 L281.6,199.62 L282.6,199.69 L283.6,199.76 L284.6,199.85 L285.6,199.96 L286.6,200.26 L287.6,200.75 L288.6,201.37 L289.6,202.07 L290.6,202.79 L291.6,203.47 L292.6,204.06 L293.6,204.51 L294.6,204.77 L295.6,204.76 L296.6,204.50 L297.6,204.02 L298.6,203.40 L299.6,202.68 L300.6,201.94 L301.6,201.24 L302.6,200.62 L303.6,200.17 L304.6,199.92 L305.6,199.92 L306.6,200.03 L307.6,200.22 L308.6,200.47 L309.6,200.76 L310.6,201.08 L311.6,201.41 L312.6,201.72 L313.6,202.00 L314.6,202.23 L315.6,202.40 L316.6,202.58 L317.6,202.76 L318.6,202.94 L319.6,203.10 L320.6,203.26 L321.6,203.39 L322.6,203.49 L323.6,203.56 L324.6,203.60 L325.6,203.60 L326.6,203.60 L327.6,203.60 L328.6,203.60 L329.6,203.60 L330.6,203.60 L331.6,203.60 L332.6,203.60 L333.6,203.60 L334.6,203.60 L335.6,203.68 L336.6,203.97 L337.6,204.40 L338.6,204.92 L339.6,205.45 L340.6,205.93 L341.6,206.33 L342.6,206.70 L343.6,207.07 L344.6,207.43 L345.6,207.80 L346.6,208.18 L347.6,208.58 L348.6,209.07 L349.6,209.63 L350.6,210.21 L351.6,210.77 L352.6,211.26 L353.6,211.61 L354.6,211.79 L355.6,211.70 L356.6,211.26 L357.6,210.59 L358.6,209.80 L359.6,209.01 L360.6,208.34 L361.6,207.90 L362.6,207.81 L363.6,208.00 L364.6,208.36 L365.6,208.83 L366.6,209.32 L367.6,209.78 L368.6,210.13 L369.6,210.29 L370.6,210.18 L371.6,209.72 L372.6,209.00 L373.6,208.10 L374.6,207.10 L375.6,206.10 L376.6,205.16 L377.6,204.38 L378.6,203.83 L379.6,203.60 L380.6,203.78 L381.6,204.34 L382.6,205.18 L383.6,206.21 L384.6,207.31 L385.6,208.41 L386.6,209.39 L387.6,210.21 L388.6,211.11 L389.6,212.05 L390.6,212.93 L391.6,213.65 L392.6,214.10 L393.6,214.19 L394.6,213.98 L395.6,213.57 L396.6,213.00 L397.6,212.35 L398.6,211.66 L399.6,211.00 L400.6,210.31 L401.6,209.51 L402.6,208.64 L403.6,207.73 L404.6,206.81 L405.6,205.93 L406.6,205.10 L407.6,204.35 L408.6,203.56 L409.6,202.77 L410.6,202.01 L411.6,201.30 L412.6,200.68 L413.6,200.19 L414.6,199.84 L415.6,199.58 L416.6,199.34 L417.6,199.13 L418.6,198.95 L419.6,198.78 L420.6,198.63 L421.6,198.49 L422.6,198.35 L423.6,198.21 L424.6,198.07 L425.6,197.93 L426.6,197.79 L427.6,197.66 L428.6,197.53 L429.6,197.41 L430.6,197.29 L431.6,197.18 L432.6,197.07 L433.6,196.97 L434.6,196.87 L435.6,196.77 L436.6,196.66 L437.6,196.55 L438.6,196.44 L439.6,196.35 L440.6,196.26 L441.6,196.19 L442.6,196.13 L443.6,196.11 L444.6,196.11 L445.6,196.19 L446.6,196.35 L447.6,196.57 L448.6,196.84 L449.6,197.14 L450.6,197.47 L451.6,198.00 L452.6,198.73 L453.6,199.58 L454.6,200.44 L455.6,201.21 L456.6,201.80 L457.6,202.23 L458.6,202.61 L459.6,202.95 L460.6,203.26 L461.6,203.55 L462.6,203.84 L463.6,204.14 L464.6,204.46 L465.6,204.78 L466.6,205.09 L467.6,205.40 L468.6,205.70 L469.6,205.99 L470.6,206.27 L471.6,206.57 L472.6,206.88 L473.6,207.19 L474.6,207.49 L475.6,207.75 L476.6,207.99 L477.6,208.17 L478.6,208.29 L479.6,208.37 L480.6,208.44 L481.6,208.51 L482.6,208.56 L483.6,208.59 L484.6,208.60 L485.6,208.58 L486.6,208.52 L487.6,208.42 L488.6,208.29 L489.6,208.14 L490.6,207.96 L491.6,207.57 L492.6,206.97 L493.6,206.24 L494.6,205.48 L495.6,204.59 L496.6,203.48 L497.6,202.34 L498.6,201.36 L499.6,200.68 L500.6,200.06 L501.6,199.56 L502.6,199.31 L503.6,199.41 L504.6,199.80 L505.6,200.41 L506.6,201.20 L507.6,203.10 L508.6,205.52 L509.6,207.18 L510.6,208.37 L511.6,209.38 L512.6,210.21 L513.6,210.85 L514.6,211.35 L515.6,211.82 L516.6,212.18 L517.6,212.38 L518.6,212.36 L519.6,212.17 L520.6,211.84 L521.6,211.44 L522.6,211.01 L523.6,210.61 L524.6,210.26 L525.6,209.91 L526.6,209.56 L527.6,209.19 L528.6,208.79 L529.6,208.35 L530.6,207.82 L531.6,207.18 L532.6,206.50 L533.6,205.81 L534.6,205.18 L535.6,204.65 L536.6,204.17 L537.6,203.68 L538.6,203.19 L539.6,202.73 L540.6,202.32 L541.6,201.97 L542.6,201.70 L543.6,201.54 L544.6,201.50 L545.6,201.64 L546.6,201.94 L547.6,202.38 L548.6,202.90 L549.6,203.48 L550.6,204.07 L551.6,204.64 L552.6,205.15 L553.6,205.74 L554.6,206.41 L555.6,207.10 L556.6,207.78 L557.6,208.40 L558.6,208.92 L559.6,209.28 L560.6,209.45 L561.6,209.59 L562.6,209.70 L563.6,209.81 L564.6,209.91 L565.6,209.99 L566.6,210.06 L567.6,210.12 L568.6,210.16 L569.6,210.19 L570.6,210.20 L571.6,210.17 L572.6,210.07 L573.6,209.91 L574.6,209.69 L575.6,209.44 L576.6,209.14 L577.6,208.82 L578.6,208.49 L579.6,208.14 L580.6,207.80 L581.6,207.46 L582.6,207.06 L583.6,206.60 L584.6,206.09 L585.6,205.55 L586.6,204.99 L587.6,204.42 L588.6,203.86 L589.6,203.31 L590.6,202.81 L591.6,202.34 L592.6,201.91 L593.6,201.47 L594.6,201.03 L595.6,200.60 L596.6,200.17 L597.6,199.77 L598.6,199.40 L599.6,199.07 L600.6,198.77 L601.6,198.52 L602.6,198.33 L603.6,198.14 L604.6,197.96 L605.6,197.79 L606.6,197.63 L607.6,197.49 L608.6,197.36 L609.6,197.25 L610.6,197.17 L611.6,197.12 L612.6,197.10 L613.6,197.11 L614.6,197.14 L615.6,197.20 L616.6,197.27 L617.6,197.37 L618.6,197.47 L619.6,197.59 L620.6,197.72 L621.6,197.86 L622.6,198.03 L623.6,198.29 L624.6,198.64 L625.6,199.05 L626.6,199.50 L627.6,199.97 L628.6,200.44 L629.6,200.89 L630.6,201.31 L631.6,201.68 L632.6,202.03 L633.6,202.38 L634.6,202.71 L635.6,203.05 L636.6,203.37 L637.6,203.70 L638.6,204.02 L639.6,204.35 L640.6,204.67 L641.6,205.00 L642.6,205.35 L643.6,205.73 L644.6,206.13 L645.6,206.53 L646.6,206.93 L647.6,207.30 L648.6,207.64 L649.6,207.94 L650.6,208.18 L651.6,208.35 L652.6,208.44 L653.6,208.52 L654.6,208.59 L655.6,208.66 L656.6,208.72 L657.6,208.77 L658.6,208.82 L659.6,208.85 L660.6,208.88 L661.6,208.89 L662.6,208.90 L663.6,208.83 L664.6,208.62 L665.6,208.32 L666.6,207.94 L667.6,207.52 L668.6,207.08 L669.6,206.65 L670.6,206.26 L671.6,205.84 L672.6,205.33 L673.6,204.79 L674.6,204.26 L675.6,203.79 L676.6,203.41 L677.6,203.17 L678.6,203.10 L679.6,203.26 L680.6,203.62 L681.6,204.14 L682.6,204.81" fill="none" stroke="#111" stroke-width="1.25"/>
<g clip-path="url(#cc)"><circle cx="182.9" cy="44" r="2.45" fill="#279526"/><circle cx="190.1" cy="27.1" r="2.45" fill="#279526"/><circle cx="187.2" cy="52.2" r="2.45" fill="#279526"/><circle cx="198.8" cy="42" r="2.45" fill="#279526"/><circle cx="199.6" cy="48.2" r="2.45" fill="#279526"/><circle cx="198.3" cy="50.7" r="2.45" fill="#279526"/><circle cx="209.5" cy="38" r="2.45" fill="#279526"/><circle cx="218.7" cy="45.5" r="2.45" fill="#279526"/><circle cx="217.2" cy="58.1" r="2.45" fill="#279526"/><circle cx="225.6" cy="27.9" r="2.45" fill="#279526"/><circle cx="227.1" cy="58.6" r="2.45" fill="#279526"/><circle cx="224.6" cy="66.6" r="2.45" fill="#279526"/><circle cx="231.6" cy="62.8" r="2.45" fill="#279526"/><circle cx="231.3" cy="65.5" r="2.45" fill="#279526"/><circle cx="241.8" cy="60.6" r="2.45" fill="#279526"/><circle cx="344.7" cy="48.4" r="2.45" fill="#279526"/><circle cx="342.9" cy="65.3" r="2.45" fill="#279526"/><circle cx="179.5" cy="77.2" r="2.45" fill="#279526"/><circle cx="207.5" cy="82.1" r="2.45" fill="#279526"/><circle cx="241" cy="79.2" r="2.45" fill="#279526"/><circle cx="254.2" cy="78.4" r="2.45" fill="#279526"/><circle cx="255.9" cy="85.9" r="2.45" fill="#279526"/><circle cx="256.9" cy="88.8" r="2.45" fill="#279526"/><circle cx="265.8" cy="91.1" r="2.45" fill="#279526"/><circle cx="296.8" cy="93.5" r="2.45" fill="#279526"/><circle cx="311.2" cy="99" r="2.45" fill="#279526"/><circle cx="339.8" cy="84.6" r="2.45" fill="#279526"/><circle cx="349.4" cy="48.9" r="2.45" fill="#279526"/><circle cx="353.4" cy="47.7" r="2.45" fill="#279526"/><circle cx="354.4" cy="68" r="2.45" fill="#279526"/><circle cx="359.1" cy="61.8" r="2.45" fill="#279526"/><circle cx="361.6" cy="53.2" r="2.45" fill="#279526"/><circle cx="363.8" cy="34.6" r="2.45" fill="#279526"/><circle cx="368.8" cy="48" r="2.45" fill="#279526"/><circle cx="370" cy="51.9" r="2.45" fill="#279526"/><circle cx="377.7" cy="46" r="2.45" fill="#279526"/><circle cx="380.2" cy="50.7" r="2.45" fill="#279526"/><circle cx="383.4" cy="15.7" r="2.45" fill="#279526"/><circle cx="388.4" cy="35.8" r="2.45" fill="#279526"/><circle cx="392.9" cy="35.5" r="2.45" fill="#279526"/><circle cx="391.9" cy="41" r="2.45" fill="#279526"/><circle cx="395.6" cy="41" r="2.45" fill="#279526"/><circle cx="406.5" cy="67.9" r="2.45" fill="#279526"/><circle cx="379" cy="69.3" r="2.45" fill="#279526"/><circle cx="351.9" cy="77.9" r="2.45" fill="#279526"/><circle cx="367.3" cy="77.2" r="2.45" fill="#279526"/><circle cx="390.4" cy="72.9" r="2.45" fill="#279526"/><circle cx="401.5" cy="75.9" r="2.45" fill="#279526"/><circle cx="463.3" cy="79.2" r="2.45" fill="#279526"/><circle cx="467.3" cy="79.6" r="2.45" fill="#279526"/><circle cx="480.2" cy="92.8" r="2.45" fill="#279526"/><circle cx="488.4" cy="93.8" r="2.45" fill="#279526"/><circle cx="493.1" cy="80.9" r="2.45" fill="#279526"/><circle cx="498.3" cy="90.1" r="2.45" fill="#279526"/><circle cx="508.7" cy="84.6" r="2.45" fill="#279526"/><circle cx="515.5" cy="42.4" r="2.45" fill="#279526"/><circle cx="518.4" cy="61.6" r="2.45" fill="#279526"/><circle cx="530" cy="51.9" r="2.45" fill="#279526"/><circle cx="530.7" cy="56.1" r="2.45" fill="#279526"/><circle cx="542" cy="43" r="2.45" fill="#279526"/><circle cx="543.1" cy="68" r="2.45" fill="#279526"/><circle cx="548.1" cy="51.6" r="2.45" fill="#279526"/><circle cx="553.1" cy="28.5" r="2.45" fill="#279526"/><circle cx="554.9" cy="27.7" r="2.45" fill="#279526"/><circle cx="561.5" cy="38.5" r="2.45" fill="#279526"/><circle cx="565.7" cy="36.1" r="2.45" fill="#279526"/><circle cx="568.8" cy="42.4" r="2.45" fill="#279526"/><circle cx="559.1" cy="47.4" r="2.45" fill="#279526"/><circle cx="561" cy="44.8" r="2.45" fill="#279526"/><circle cx="553.4" cy="68.8" r="2.45" fill="#279526"/><circle cx="510.3" cy="84.4" r="2.45" fill="#279526"/><circle cx="517.6" cy="71.8" r="2.45" fill="#279526"/><circle cx="547" cy="73.1" r="2.45" fill="#279526"/><circle cx="568.1" cy="77.8" r="2.45" fill="#279526"/><circle cx="573.3" cy="76" r="2.45" fill="#279526"/><circle cx="577.5" cy="79.1" r="2.45" fill="#279526"/><circle cx="595.1" cy="89.6" r="2.45" fill="#279526"/><circle cx="633.7" cy="78.6" r="2.45" fill="#279526"/><circle cx="640.3" cy="78.6" r="2.45" fill="#279526"/><circle cx="652.7" cy="75.2" r="2.45" fill="#279526"/><circle cx="653.7" cy="95.7" r="2.45" fill="#279526"/><circle cx="669.7" cy="82.6" r="2.45" fill="#279526"/><circle cx="669.2" cy="90.2" r="2.45" fill="#279526"/><circle cx="682.6" cy="84.9" r="2.45" fill="#279526"/></g>
<g clip-path="url(#cc)"><rect x="180.7" y="58.4" width="4.5" height="4.5" fill="#f4a52c"/><rect x="181.2" y="68.3" width="4.5" height="4.5" fill="#f4a52c"/><rect x="211.8" y="83.2" width="4.5" height="4.5" fill="#f4a52c"/><rect x="223.9" y="74.2" width="4.5" height="4.5" fill="#f4a52c"/><rect x="230.4" y="74.2" width="4.5" height="4.5" fill="#f4a52c"/><rect x="230.9" y="76.7" width="4.5" height="4.5" fill="#f4a52c"/><rect x="234.6" y="86.1" width="4.5" height="4.5" fill="#f4a52c"/><rect x="244" y="80.7" width="4.5" height="4.5" fill="#f4a52c"/><rect x="244.5" y="84.1" width="4.5" height="4.5" fill="#f4a52c"/><rect x="279" y="93.6" width="4.5" height="4.5" fill="#f4a52c"/><rect x="290.7" y="96.8" width="4.5" height="4.5" fill="#f4a52c"/><rect x="309" y="93.6" width="4.5" height="4.5" fill="#f4a52c"/><rect x="313.5" y="91.6" width="4.5" height="4.5" fill="#f4a52c"/><rect x="319" y="84.1" width="4.5" height="4.5" fill="#f4a52c"/><rect x="323.7" y="84.1" width="4.5" height="4.5" fill="#f4a52c"/><rect x="328.1" y="87.9" width="4.5" height="4.5" fill="#f4a52c"/><rect x="332.6" y="87.9" width="4.5" height="4.5" fill="#f4a52c"/><rect x="338.8" y="84.1" width="4.5" height="4.5" fill="#f4a52c"/><rect x="359.6" y="57.2" width="4.5" height="4.5" fill="#f4a52c"/><rect x="390.4" y="54.2" width="4.5" height="4.5" fill="#f4a52c"/><rect x="366" y="66.6" width="4.5" height="4.5" fill="#f4a52c"/><rect x="381" y="67.4" width="4.5" height="4.5" fill="#f4a52c"/><rect x="395.5" y="66.9" width="4.5" height="4.5" fill="#f4a52c"/><rect x="347" y="69.3" width="4.5" height="4.5" fill="#f4a52c"/><rect x="360.6" y="68.8" width="4.5" height="4.5" fill="#f4a52c"/><rect x="368.3" y="69.3" width="4.5" height="4.5" fill="#f4a52c"/><rect x="400.3" y="81.7" width="4.5" height="4.5" fill="#f4a52c"/><rect x="401.8" y="80.7" width="4.5" height="4.5" fill="#f4a52c"/><rect x="408.5" y="87.9" width="4.5" height="4.5" fill="#f4a52c"/><rect x="412.7" y="91.6" width="4.5" height="4.5" fill="#f4a52c"/><rect x="419.2" y="91.1" width="4.5" height="4.5" fill="#f4a52c"/><rect x="444" y="82.7" width="4.5" height="4.5" fill="#f4a52c"/><rect x="463.9" y="87.9" width="4.5" height="4.5" fill="#f4a52c"/><rect x="500.6" y="77.9" width="4.5" height="4.5" fill="#f4a52c"/><rect x="557.7" y="62.8" width="4.5" height="4.5" fill="#f4a52c"/><rect x="679.4" y="51" width="4.5" height="4.5" fill="#f4a52c"/><rect x="679.4" y="59.7" width="4.5" height="4.5" fill="#f4a52c"/><rect x="554.3" y="66.2" width="4.5" height="4.5" fill="#f4a52c"/><rect x="518.6" y="79.6" width="4.5" height="4.5" fill="#f4a52c"/><rect x="520.1" y="80.1" width="4.5" height="4.5" fill="#f4a52c"/><rect x="523.3" y="81.7" width="4.5" height="4.5" fill="#f4a52c"/><rect x="528.3" y="86.1" width="4.5" height="4.5" fill="#f4a52c"/><rect x="543" y="83" width="4.5" height="4.5" fill="#f4a52c"/><rect x="558" y="65.9" width="4.5" height="4.5" fill="#f4a52c"/><rect x="563.2" y="67.7" width="4.5" height="4.5" fill="#f4a52c"/><rect x="566.6" y="68.5" width="4.5" height="4.5" fill="#f4a52c"/><rect x="571.6" y="77.7" width="4.5" height="4.5" fill="#f4a52c"/><rect x="578.5" y="86.1" width="4.5" height="4.5" fill="#f4a52c"/><rect x="590.3" y="90.6" width="4.5" height="4.5" fill="#f4a52c"/><rect x="611.3" y="96.6" width="4.5" height="4.5" fill="#f4a52c"/><rect x="626.3" y="98" width="4.5" height="4.5" fill="#f4a52c"/><rect x="641.3" y="92.7" width="4.5" height="4.5" fill="#f4a52c"/><rect x="654.9" y="89" width="4.5" height="4.5" fill="#f4a52c"/><rect x="679.4" y="66.4" width="4.5" height="4.5" fill="#f4a52c"/><rect x="678.8" y="72.2" width="4.5" height="4.5" fill="#f4a52c"/></g>
<g clip-path="url(#cc)"><path d="M184.95,93.05L187.85,95.95M184.95,95.95L187.85,93.05" stroke="#000" stroke-width="1.9"/><path d="M188.15,87.65L191.05,90.55M188.15,90.55L191.05,87.65" stroke="#000" stroke-width="1.9"/><path d="M207.35,100.05L210.25,102.95M207.35,102.95L210.25,100.05" stroke="#000" stroke-width="1.9"/><path d="M209.75,94.35L212.65,97.25M209.75,97.25L212.65,94.35" stroke="#000" stroke-width="1.9"/><path d="M216.75,95.55L219.65,98.45M216.75,98.45L219.65,95.55" stroke="#000" stroke-width="1.9"/><path d="M253.95,94.85L256.85,97.75M253.95,97.75L256.85,94.85" stroke="#000" stroke-width="1.9"/><path d="M263.15,100.55L266.05,103.45M263.15,103.45L266.05,100.55" stroke="#000" stroke-width="1.9"/><path d="M310.75,110.75L313.65,113.65M310.75,113.65L313.65,110.75" stroke="#000" stroke-width="1.9"/><path d="M312.75,115.65L315.65,118.55M312.75,118.55L315.65,115.65" stroke="#000" stroke-width="1.9"/><path d="M318.45,106.75L321.35,109.65M318.45,109.65L321.35,106.75" stroke="#000" stroke-width="1.9"/><path d="M323.45,100.05L326.35,102.95M323.45,102.95L326.35,100.05" stroke="#000" stroke-width="1.9"/><path d="M327.65,102.25L330.55,105.15M327.65,105.15L330.55,102.25" stroke="#000" stroke-width="1.9"/><path d="M331.35,108.45L334.25,111.35M331.35,111.35L334.25,108.45" stroke="#000" stroke-width="1.9"/><path d="M351.45,80.95L354.35,83.85M351.45,83.85L354.35,80.95" stroke="#000" stroke-width="1.9"/><path d="M354.65,106.25L357.55,109.15M354.65,109.15L357.55,106.25" stroke="#000" stroke-width="1.9"/><path d="M375.75,103.05L378.65,105.95M375.75,105.95L378.65,103.05" stroke="#000" stroke-width="1.9"/><path d="M389.45,81.45L392.35,84.35M389.45,84.35L392.35,81.45" stroke="#000" stroke-width="1.9"/><path d="M393.15,91.15L396.05,94.05M393.15,94.05L396.05,91.15" stroke="#000" stroke-width="1.9"/><path d="M394.85,100.05L397.75,102.95M394.85,102.95L397.75,100.05" stroke="#000" stroke-width="1.9"/><path d="M452.15,103.55L455.05,106.45M452.15,106.45L455.05,103.55" stroke="#000" stroke-width="1.9"/><path d="M483.25,118.35L486.15,121.25M483.25,121.25L486.15,118.35" stroke="#000" stroke-width="1.9"/><path d="M507.25,114.25L510.15,117.15M507.25,117.15L510.15,114.25" stroke="#000" stroke-width="1.9"/><path d="M521.15,89.55L524.05,92.45M521.15,92.45L524.05,89.55" stroke="#000" stroke-width="1.9"/><path d="M527.75,91.85L530.65,94.75M527.75,94.75L530.65,91.85" stroke="#000" stroke-width="1.9"/><path d="M544.85,101.35L547.75,104.25M544.85,104.25L547.75,101.35" stroke="#000" stroke-width="1.9"/><path d="M563.45,73.75L566.35,76.65M563.45,76.65L566.35,73.75" stroke="#000" stroke-width="1.9"/><path d="M612.05,101.35L614.95,104.25M612.05,104.25L614.95,101.35" stroke="#000" stroke-width="1.9"/><path d="M645.45,113.45L648.35,116.35M645.45,116.35L648.35,113.45" stroke="#000" stroke-width="1.9"/><path d="M660.45,99.55L663.35,102.45M660.45,102.45L663.35,99.55" stroke="#000" stroke-width="1.9"/><path d="M658.85,103.45L661.75,106.35M658.85,106.35L661.75,103.45" stroke="#000" stroke-width="1.9"/><path d="M665.95,117.05L668.85,119.95M665.95,119.95L668.85,117.05" stroke="#000" stroke-width="1.9"/><path d="M676.15,96.05L679.05,98.95M676.15,98.95L679.05,96.05" stroke="#000" stroke-width="1.9"/><path d="M675.65,116.05L678.55,118.95M675.65,118.95L678.55,116.05" stroke="#000" stroke-width="1.9"/></g>
<g clip-path="url(#cd)"><circle cx="179.5" cy="218.5" r="2.45" fill="#279526"/><circle cx="183" cy="216.7" r="2.45" fill="#279526"/><circle cx="179" cy="226.4" r="2.45" fill="#279526"/><circle cx="182.2" cy="226.7" r="2.45" fill="#279526"/><circle cx="190.1" cy="229.1" r="2.45" fill="#279526"/><circle cx="199.1" cy="211" r="2.45" fill="#279526"/><circle cx="198.8" cy="227.9" r="2.45" fill="#279526"/><circle cx="198.3" cy="231.4" r="2.45" fill="#279526"/><circle cx="209" cy="236.6" r="2.45" fill="#279526"/><circle cx="208.8" cy="197.9" r="2.45" fill="#279526"/><circle cx="217.4" cy="214" r="2.45" fill="#279526"/><circle cx="218.9" cy="203.6" r="2.45" fill="#279526"/><circle cx="224.6" cy="227.1" r="2.45" fill="#279526"/><circle cx="225.6" cy="234.1" r="2.45" fill="#279526"/><circle cx="226.9" cy="211" r="2.45" fill="#279526"/><circle cx="231.6" cy="214.2" r="2.45" fill="#279526"/><circle cx="231.1" cy="225.9" r="2.45" fill="#279526"/><circle cx="241" cy="206.8" r="2.45" fill="#279526"/><circle cx="241.8" cy="224.2" r="2.45" fill="#279526"/><circle cx="254.2" cy="203.6" r="2.45" fill="#279526"/><circle cx="256.6" cy="204.3" r="2.45" fill="#279526"/><circle cx="256.1" cy="214.7" r="2.45" fill="#279526"/><circle cx="265.8" cy="216.2" r="2.45" fill="#279526"/><circle cx="296.8" cy="212.3" r="2.45" fill="#279526"/><circle cx="311.2" cy="209.8" r="2.45" fill="#279526"/><circle cx="344.7" cy="217.7" r="2.45" fill="#279526"/><circle cx="342.7" cy="227.9" r="2.45" fill="#279526"/><circle cx="339.8" cy="208.5" r="2.45" fill="#279526"/><circle cx="349.4" cy="219.7" r="2.45" fill="#279526"/><circle cx="352.4" cy="211.8" r="2.45" fill="#279526"/><circle cx="352.9" cy="219.2" r="2.45" fill="#279526"/><circle cx="354.1" cy="223.4" r="2.45" fill="#279526"/><circle cx="358.6" cy="209.8" r="2.45" fill="#279526"/><circle cx="361.3" cy="225.9" r="2.45" fill="#279526"/><circle cx="364.1" cy="227.1" r="2.45" fill="#279526"/><circle cx="367.3" cy="225.2" r="2.45" fill="#279526"/><circle cx="369.8" cy="229.1" r="2.45" fill="#279526"/><circle cx="369" cy="239.6" r="2.45" fill="#279526"/><circle cx="377.7" cy="213.5" r="2.45" fill="#279526"/><circle cx="378" cy="208.5" r="2.45" fill="#279526"/><circle cx="380.2" cy="218.5" r="2.45" fill="#279526"/><circle cx="383.4" cy="223.4" r="2.45" fill="#279526"/><circle cx="390.4" cy="220.9" r="2.45" fill="#279526"/><circle cx="392.1" cy="227.1" r="2.45" fill="#279526"/><circle cx="395.1" cy="238.6" r="2.45" fill="#279526"/><circle cx="401.5" cy="211" r="2.45" fill="#279526"/><circle cx="406.5" cy="207.3" r="2.45" fill="#279526"/><circle cx="463.3" cy="211" r="2.45" fill="#279526"/><circle cx="467.3" cy="204.8" r="2.45" fill="#279526"/><circle cx="480.2" cy="219.9" r="2.45" fill="#279526"/><circle cx="488.2" cy="210" r="2.45" fill="#279526"/><circle cx="493.3" cy="224" r="2.45" fill="#279526"/><circle cx="498.4" cy="212.4" r="2.45" fill="#279526"/><circle cx="508.7" cy="216" r="2.45" fill="#279526"/><circle cx="510" cy="215.6" r="2.45" fill="#279526"/><circle cx="518" cy="214.8" r="2.45" fill="#279526"/><circle cx="517.7" cy="220.7" r="2.45" fill="#279526"/><circle cx="515.5" cy="237.3" r="2.45" fill="#279526"/><circle cx="530" cy="236" r="2.45" fill="#279526"/><circle cx="530.7" cy="229.1" r="2.45" fill="#279526"/><circle cx="541.8" cy="231.8" r="2.45" fill="#279526"/><circle cx="543.1" cy="209.4" r="2.45" fill="#279526"/><circle cx="547" cy="206.3" r="2.45" fill="#279526"/><circle cx="547.8" cy="225.5" r="2.45" fill="#279526"/><circle cx="553.1" cy="206.3" r="2.45" fill="#279526"/><circle cx="554.4" cy="226" r="2.45" fill="#279526"/><circle cx="558.9" cy="209.4" r="2.45" fill="#279526"/><circle cx="561" cy="226.8" r="2.45" fill="#279526"/><circle cx="566" cy="228.1" r="2.45" fill="#279526"/><circle cx="568.1" cy="216" r="2.45" fill="#279526"/><circle cx="568.8" cy="219.4" r="2.45" fill="#279526"/><circle cx="573.3" cy="222" r="2.45" fill="#279526"/><circle cx="577.5" cy="214.7" r="2.45" fill="#279526"/><circle cx="594.3" cy="208.4" r="2.45" fill="#279526"/><circle cx="594.9" cy="217.3" r="2.45" fill="#279526"/><circle cx="633.7" cy="223.4" r="2.45" fill="#279526"/><circle cx="640.3" cy="219.4" r="2.45" fill="#279526"/><circle cx="652.7" cy="231.8" r="2.45" fill="#279526"/><circle cx="653.7" cy="217.6" r="2.45" fill="#279526"/><circle cx="668.7" cy="216.8" r="2.45" fill="#279526"/><circle cx="669.5" cy="206.3" r="2.45" fill="#279526"/><circle cx="682.6" cy="215.5" r="2.45" fill="#279526"/><circle cx="553.1" cy="244.4" r="2.45" fill="#279526"/><circle cx="388.5" cy="244.3" r="2.45" fill="#279526"/></g>
<g clip-path="url(#cd)"><rect x="180.8" y="195.7" width="4.5" height="4.5" fill="#f4a52c"/><rect x="211.5" y="181.8" width="4.5" height="4.5" fill="#f4a52c"/><rect x="224.2" y="199.6" width="4.5" height="4.5" fill="#f4a52c"/><rect x="230.4" y="200.1" width="4.5" height="4.5" fill="#f4a52c"/><rect x="234.6" y="194.7" width="4.5" height="4.5" fill="#f4a52c"/><rect x="244.5" y="196.4" width="4.5" height="4.5" fill="#f4a52c"/><rect x="244" y="199.6" width="4.5" height="4.5" fill="#f4a52c"/><rect x="279" y="191.9" width="4.5" height="4.5" fill="#f4a52c"/><rect x="290.4" y="198.4" width="4.5" height="4.5" fill="#f4a52c"/><rect x="309" y="196.4" width="4.5" height="4.5" fill="#f4a52c"/><rect x="313.5" y="187.7" width="4.5" height="4.5" fill="#f4a52c"/><rect x="319" y="199.6" width="4.5" height="4.5" fill="#f4a52c"/><rect x="323.9" y="200.6" width="4.5" height="4.5" fill="#f4a52c"/><rect x="328.4" y="200.6" width="4.5" height="4.5" fill="#f4a52c"/><rect x="332.1" y="179.8" width="4.5" height="4.5" fill="#f4a52c"/><rect x="338.8" y="195.2" width="4.5" height="4.5" fill="#f4a52c"/><rect x="347" y="200.6" width="4.5" height="4.5" fill="#f4a52c"/><rect x="360.1" y="189.2" width="4.5" height="4.5" fill="#f4a52c"/><rect x="359.6" y="202.9" width="4.5" height="4.5" fill="#f4a52c"/><rect x="365.8" y="201.6" width="4.5" height="4.5" fill="#f4a52c"/><rect x="368.3" y="196.4" width="4.5" height="4.5" fill="#f4a52c"/><rect x="380.7" y="190.2" width="4.5" height="4.5" fill="#f4a52c"/><rect x="390.4" y="197.2" width="4.5" height="4.5" fill="#f4a52c"/><rect x="400.3" y="194.2" width="4.5" height="4.5" fill="#f4a52c"/><rect x="401.8" y="197.7" width="4.5" height="4.5" fill="#f4a52c"/><rect x="408.5" y="193.7" width="4.5" height="4.5" fill="#f4a52c"/><rect x="412.7" y="182" width="4.5" height="4.5" fill="#f4a52c"/><rect x="419.2" y="187" width="4.5" height="4.5" fill="#f4a52c"/><rect x="444" y="190.7" width="4.5" height="4.5" fill="#f4a52c"/><rect x="463.9" y="202.1" width="4.5" height="4.5" fill="#f4a52c"/><rect x="500.6" y="183.1" width="4.5" height="4.5" fill="#f4a52c"/><rect x="395.4" y="209.6" width="4.5" height="4.5" fill="#f4a52c"/><rect x="518" y="206.4" width="4.5" height="4.5" fill="#f4a52c"/><rect x="519.5" y="204.3" width="4.5" height="4.5" fill="#f4a52c"/><rect x="521.4" y="202.5" width="4.5" height="4.5" fill="#f4a52c"/><rect x="523.8" y="188.3" width="4.5" height="4.5" fill="#f4a52c"/><rect x="528.3" y="187.7" width="4.5" height="4.5" fill="#f4a52c"/><rect x="543" y="190.9" width="4.5" height="4.5" fill="#f4a52c"/><rect x="555.3" y="195.7" width="4.5" height="4.5" fill="#f4a52c"/><rect x="558" y="200.9" width="4.5" height="4.5" fill="#f4a52c"/><rect x="561.9" y="204.6" width="4.5" height="4.5" fill="#f4a52c"/><rect x="566.6" y="201.4" width="4.5" height="4.5" fill="#f4a52c"/><rect x="571.6" y="202.2" width="4.5" height="4.5" fill="#f4a52c"/><rect x="578.5" y="196.2" width="4.5" height="4.5" fill="#f4a52c"/><rect x="590.3" y="197.5" width="4.5" height="4.5" fill="#f4a52c"/><rect x="611.3" y="188.8" width="4.5" height="4.5" fill="#f4a52c"/><rect x="626.3" y="193.6" width="4.5" height="4.5" fill="#f4a52c"/><rect x="641.3" y="202.8" width="4.5" height="4.5" fill="#f4a52c"/><rect x="654.9" y="204.6" width="4.5" height="4.5" fill="#f4a52c"/><rect x="678.8" y="196.2" width="4.5" height="4.5" fill="#f4a52c"/><rect x="679.4" y="202.8" width="4.5" height="4.5" fill="#f4a52c"/></g>
<g clip-path="url(#cd)"><path d="M184.95,204.85L187.85,207.75M184.95,207.75L187.85,204.85" stroke="#000" stroke-width="1.9"/><path d="M188.15,202.65L191.05,205.55M188.15,205.55L191.05,202.65" stroke="#000" stroke-width="1.9"/><path d="M207.35,202.65L210.25,205.55M207.35,205.55L210.25,202.65" stroke="#000" stroke-width="1.9"/><path d="M209.75,197.95L212.65,200.85M209.75,200.85L212.65,197.95" stroke="#000" stroke-width="1.9"/><path d="M215.55,197.95L218.45,200.85M215.55,200.85L218.45,197.95" stroke="#000" stroke-width="1.9"/><path d="M253.95,212.05L256.85,214.95M253.95,214.95L256.85,212.05" stroke="#000" stroke-width="1.9"/><path d="M263.15,204.65L266.05,207.55M263.15,207.55L266.05,204.65" stroke="#000" stroke-width="1.9"/><path d="M310.75,204.65L313.65,207.55M310.75,207.55L313.65,204.65" stroke="#000" stroke-width="1.9"/><path d="M312.75,208.85L315.65,211.75M312.75,211.75L315.65,208.85" stroke="#000" stroke-width="1.9"/><path d="M318.45,208.35L321.35,211.25M318.45,211.25L321.35,208.35" stroke="#000" stroke-width="1.9"/><path d="M323.45,204.65L326.35,207.55M323.45,207.55L326.35,204.65" stroke="#000" stroke-width="1.9"/><path d="M327.65,209.05L330.55,211.95M327.65,211.95L330.55,209.05" stroke="#000" stroke-width="1.9"/><path d="M331.35,204.65L334.25,207.55M331.35,207.55L334.25,204.65" stroke="#000" stroke-width="1.9"/><path d="M353.95,210.35L356.85,213.25M353.95,213.25L356.85,210.35" stroke="#000" stroke-width="1.9"/><path d="M350.95,217.75L353.85,220.65M350.95,220.65L353.85,217.75" stroke="#000" stroke-width="1.9"/><path d="M375.75,207.85L378.65,210.75M375.75,210.75L378.65,207.85" stroke="#000" stroke-width="1.9"/><path d="M389.45,213.25L392.35,216.15M389.45,216.15L392.35,213.25" stroke="#000" stroke-width="1.9"/><path d="M393.15,217.05L396.05,219.95M393.15,219.95L396.05,217.05" stroke="#000" stroke-width="1.9"/><path d="M395.15,217.05L398.05,219.95M395.15,219.95L398.05,217.05" stroke="#000" stroke-width="1.9"/><path d="M452.15,198.85L455.05,201.75M452.15,201.75L455.05,198.85" stroke="#000" stroke-width="1.9"/><path d="M483.15,209.45L486.05,212.35M483.15,212.35L486.05,209.45" stroke="#000" stroke-width="1.9"/><path d="M507.55,209.45L510.45,212.35M507.55,212.35L510.45,209.45" stroke="#000" stroke-width="1.9"/><path d="M520.95,216.75L523.85,219.65M520.95,219.65L523.85,216.75" stroke="#000" stroke-width="1.9"/><path d="M527.55,209.45L530.45,212.35M527.55,212.35L530.45,209.45" stroke="#000" stroke-width="1.9"/><path d="M544.85,202.15L547.75,205.05M544.85,205.05L547.75,202.15" stroke="#000" stroke-width="1.9"/><path d="M563.45,233.75L566.35,236.65M563.45,236.65L566.35,233.75" stroke="#000" stroke-width="1.9"/><path d="M612.05,202.15L614.95,205.05M612.05,205.05L614.95,202.15" stroke="#000" stroke-width="1.9"/><path d="M645.45,209.55L648.35,212.45M645.45,212.45L648.35,209.55" stroke="#000" stroke-width="1.9"/><path d="M660.45,209.55L663.35,212.45M660.45,212.45L663.35,209.55" stroke="#000" stroke-width="1.9"/><path d="M658.85,210.05L661.75,212.95M658.85,212.95L661.75,210.05" stroke="#000" stroke-width="1.9"/><path d="M665.95,207.95L668.85,210.85M665.95,210.85L668.85,207.95" stroke="#000" stroke-width="1.9"/><path d="M676.15,202.15L679.05,205.05M676.15,205.05L679.05,202.15" stroke="#000" stroke-width="1.9"/></g>
<rect x="220.8" y="137.9" width="458.7" height="14.8" rx="2" fill="#fff" fill-opacity="0.8" stroke="#cccccc" stroke-opacity="0.8" stroke-width="0.8"/>
<circle cx="231.9" cy="145.5" r="2.3" fill="#279526"/>
<rect x="384.5" y="143.3" width="4.4" height="4.4" fill="#f4a52c"/>
<path d="M559.4,144.1L562.3,147M559.4,147L562.3,144.1" stroke="#000" stroke-width="1.9"/>
<text x="245.8" y="148.2" font-size="8.3" fill="#262626" stroke="#262626" stroke-width="0.16" textLength="117.1" lengthAdjust="spacingAndGlyphs">Green: 87 Overflows Detected</text>
<text x="400.7" y="148.2" font-size="8.3" fill="#262626" stroke="#262626" stroke-width="0.16" textLength="136.2" lengthAdjust="spacingAndGlyphs">Orange: 54 Overflows not Detected</text>
<text x="575.6" y="148.2" font-size="8.3" fill="#262626" stroke="#262626" stroke-width="0.16" textLength="100.6" lengthAdjust="spacingAndGlyphs">Black: 34 False Detections</text>
<rect x="177.6" y="10.5" width="506" height="115.3" fill="none" stroke="#3a3a3a" stroke-width="1"/>
<line x1="177.6" y1="125.8" x2="177.6" y2="128.1" stroke="#3a3a3a" stroke-width="0.9"/>
<line x1="219.25" y1="125.8" x2="219.25" y2="128.1" stroke="#3a3a3a" stroke-width="0.9"/>
<line x1="261.36" y1="125.8" x2="261.36" y2="128.1" stroke="#3a3a3a" stroke-width="0.9"/>
<line x1="303.93" y1="125.8" x2="303.93" y2="128.1" stroke="#3a3a3a" stroke-width="0.9"/>
<line x1="346.5" y1="125.8" x2="346.5" y2="128.1" stroke="#3a3a3a" stroke-width="0.9"/>
<line x1="388.15" y1="125.8" x2="388.15" y2="128.1" stroke="#3a3a3a" stroke-width="0.9"/>
<line x1="430.26" y1="125.8" x2="430.26" y2="128.1" stroke="#3a3a3a" stroke-width="0.9"/>
<line x1="472.83" y1="125.8" x2="472.83" y2="128.1" stroke="#3a3a3a" stroke-width="0.9"/>
<line x1="515.4" y1="125.8" x2="515.4" y2="128.1" stroke="#3a3a3a" stroke-width="0.9"/>
<line x1="557.05" y1="125.8" x2="557.05" y2="128.1" stroke="#3a3a3a" stroke-width="0.9"/>
<line x1="599.16" y1="125.8" x2="599.16" y2="128.1" stroke="#3a3a3a" stroke-width="0.9"/>
<line x1="641.73" y1="125.8" x2="641.73" y2="128.1" stroke="#3a3a3a" stroke-width="0.9"/>
<rect x="177.6" y="134.6" width="506" height="114.7" fill="none" stroke="#3a3a3a" stroke-width="1"/>
<line x1="177.6" y1="249.3" x2="177.6" y2="251.6" stroke="#3a3a3a" stroke-width="0.9"/>
<line x1="219.25" y1="249.3" x2="219.25" y2="251.6" stroke="#3a3a3a" stroke-width="0.9"/>
<line x1="261.36" y1="249.3" x2="261.36" y2="251.6" stroke="#3a3a3a" stroke-width="0.9"/>
<line x1="303.93" y1="249.3" x2="303.93" y2="251.6" stroke="#3a3a3a" stroke-width="0.9"/>
<line x1="346.5" y1="249.3" x2="346.5" y2="251.6" stroke="#3a3a3a" stroke-width="0.9"/>
<line x1="388.15" y1="249.3" x2="388.15" y2="251.6" stroke="#3a3a3a" stroke-width="0.9"/>
<line x1="430.26" y1="249.3" x2="430.26" y2="251.6" stroke="#3a3a3a" stroke-width="0.9"/>
<line x1="472.83" y1="249.3" x2="472.83" y2="251.6" stroke="#3a3a3a" stroke-width="0.9"/>
<line x1="515.4" y1="249.3" x2="515.4" y2="251.6" stroke="#3a3a3a" stroke-width="0.9"/>
<line x1="557.05" y1="249.3" x2="557.05" y2="251.6" stroke="#3a3a3a" stroke-width="0.9"/>
<line x1="599.16" y1="249.3" x2="599.16" y2="251.6" stroke="#3a3a3a" stroke-width="0.9"/>
<line x1="641.73" y1="249.3" x2="641.73" y2="251.6" stroke="#3a3a3a" stroke-width="0.9"/>
<text x="177.6" y="261" font-size="8.9" fill="#262626" stroke="#262626" stroke-width="0.06" text-anchor="middle" textLength="9.7" lengthAdjust="spacingAndGlyphs">01</text>
<text x="219.25" y="261" font-size="8.9" fill="#262626" stroke="#262626" stroke-width="0.06" text-anchor="middle" textLength="9.7" lengthAdjust="spacingAndGlyphs">04</text>
<text x="261.36" y="261" font-size="8.9" fill="#262626" stroke="#262626" stroke-width="0.06" text-anchor="middle" textLength="9.7" lengthAdjust="spacingAndGlyphs">07</text>
<text x="303.93" y="261" font-size="8.9" fill="#262626" stroke="#262626" stroke-width="0.06" text-anchor="middle" textLength="9.7" lengthAdjust="spacingAndGlyphs">10</text>
<text x="346.5" y="261" font-size="8.9" fill="#262626" stroke="#262626" stroke-width="0.06" text-anchor="middle" textLength="9.7" lengthAdjust="spacingAndGlyphs">01</text>
<text x="388.15" y="261" font-size="8.9" fill="#262626" stroke="#262626" stroke-width="0.06" text-anchor="middle" textLength="9.7" lengthAdjust="spacingAndGlyphs">04</text>
<text x="430.26" y="261" font-size="8.9" fill="#262626" stroke="#262626" stroke-width="0.06" text-anchor="middle" textLength="9.7" lengthAdjust="spacingAndGlyphs">07</text>
<text x="472.83" y="261" font-size="8.9" fill="#262626" stroke="#262626" stroke-width="0.06" text-anchor="middle" textLength="9.7" lengthAdjust="spacingAndGlyphs">10</text>
<text x="515.4" y="261" font-size="8.9" fill="#262626" stroke="#262626" stroke-width="0.06" text-anchor="middle" textLength="9.7" lengthAdjust="spacingAndGlyphs">01</text>
<text x="557.05" y="261" font-size="8.9" fill="#262626" stroke="#262626" stroke-width="0.06" text-anchor="middle" textLength="9.7" lengthAdjust="spacingAndGlyphs">04</text>
<text x="599.16" y="261" font-size="8.9" fill="#262626" stroke="#262626" stroke-width="0.06" text-anchor="middle" textLength="9.7" lengthAdjust="spacingAndGlyphs">07</text>
<text x="641.73" y="261" font-size="8.9" fill="#262626" stroke="#262626" stroke-width="0.06" text-anchor="middle" textLength="9.7" lengthAdjust="spacingAndGlyphs">10</text>
<text x="430.4" y="271.6" font-size="9.8" fill="#262626" stroke="#262626" stroke-width="0.06" text-anchor="middle" textLength="101.2" lengthAdjust="spacingAndGlyphs">Time of year (month)</text>
<line x1="174.3" y1="120.1" x2="177.6" y2="120.1" stroke="#3a3a3a" stroke-width="0.9"/>
<text x="172.7" y="123.7" font-size="8.3" fill="#262626" stroke="#262626" stroke-width="0.16" text-anchor="end" textLength="5" lengthAdjust="spacingAndGlyphs">0</text>
<line x1="174.3" y1="90.83" x2="177.6" y2="90.83" stroke="#3a3a3a" stroke-width="0.9"/>
<text x="172.7" y="94.43" font-size="8.3" fill="#262626" stroke="#262626" stroke-width="0.16" text-anchor="end" textLength="15" lengthAdjust="spacingAndGlyphs">100</text>
<line x1="174.3" y1="61.56" x2="177.6" y2="61.56" stroke="#3a3a3a" stroke-width="0.9"/>
<text x="172.7" y="65.16" font-size="8.3" fill="#262626" stroke="#262626" stroke-width="0.16" text-anchor="end" textLength="15" lengthAdjust="spacingAndGlyphs">200</text>
<line x1="174.3" y1="32.29" x2="177.6" y2="32.29" stroke="#3a3a3a" stroke-width="0.9"/>
<text x="172.7" y="35.89" font-size="8.3" fill="#262626" stroke="#262626" stroke-width="0.16" text-anchor="end" textLength="15" lengthAdjust="spacingAndGlyphs">300</text>
<text x="153" y="68.4" font-size="10" fill="#262626" stroke="#262626" stroke-width="0.06" text-anchor="middle" textLength="91.8" lengthAdjust="spacingAndGlyphs" transform="rotate(-90 153 68.4)">DSW thickness (m)</text>
<line x1="174.3" y1="231.42" x2="177.6" y2="231.42" stroke="#3a3a3a" stroke-width="0.9"/>
<text x="172.9" y="235.02" font-size="8.3" fill="#262626" stroke="#262626" stroke-width="0.16" text-anchor="end" textLength="10.6" lengthAdjust="spacingAndGlyphs">−4</text>
<line x1="174.3" y1="209.36" x2="177.6" y2="209.36" stroke="#3a3a3a" stroke-width="0.9"/>
<text x="172.9" y="212.96" font-size="8.3" fill="#262626" stroke="#262626" stroke-width="0.16" text-anchor="end" textLength="10.6" lengthAdjust="spacingAndGlyphs">−2</text>
<line x1="174.3" y1="187.3" x2="177.6" y2="187.3" stroke="#3a3a3a" stroke-width="0.9"/>
<text x="172.9" y="190.9" font-size="8.3" fill="#262626" stroke="#262626" stroke-width="0.16" text-anchor="end" textLength="5" lengthAdjust="spacingAndGlyphs">0</text>
<line x1="174.3" y1="165.24" x2="177.6" y2="165.24" stroke="#3a3a3a" stroke-width="0.9"/>
<text x="172.9" y="168.84" font-size="8.3" fill="#262626" stroke="#262626" stroke-width="0.16" text-anchor="end" textLength="5" lengthAdjust="spacingAndGlyphs">2</text>
<line x1="174.3" y1="143.18" x2="177.6" y2="143.18" stroke="#3a3a3a" stroke-width="0.9"/>
<text x="172.9" y="146.78" font-size="8.3" fill="#262626" stroke="#262626" stroke-width="0.16" text-anchor="end" textLength="5" lengthAdjust="spacingAndGlyphs">4</text>
<text x="156" y="192" font-size="10" fill="#262626" stroke="#262626" stroke-width="0.06" text-anchor="middle" textLength="90.6" lengthAdjust="spacingAndGlyphs" transform="rotate(-90 156 192)">SSH Anomaly (cm)</text>
<text x="144.9" y="12.7" font-size="15.5" fill="#000" font-weight="bold">c</text>
<text x="144.9" y="137" font-size="16" fill="#000" font-weight="bold" textLength="11.3" lengthAdjust="spacingAndGlyphs">d</text>
<text x="0.2" y="9.6" font-size="16" fill="#000" font-weight="bold">a</text>
<text x="1.4" y="117.2" font-size="16" fill="#000" font-weight="bold" textLength="10.6" lengthAdjust="spacingAndGlyphs">b</text>
<clipPath id="ca"><rect x="30.9" y="4.3" width="75.5" height="77.7"/></clipPath>
<filter id="bl" x="-5%" y="-5%" width="110%" height="110%"><feGaussianBlur stdDeviation="0.9"/></filter>
<filter id="bl3" x="-10%" y="-10%" width="120%" height="120%"><feGaussianBlur stdDeviation="0.55"/></filter>
<filter id="bl2" x="-10%" y="-10%" width="120%" height="120%"><feGaussianBlur stdDeviation="1.6"/></filter>
<linearGradient id="gL" x1="0" y1="0" x2="1" y2="0"><stop offset="0" stop-color="#379a4e"/><stop offset="0.5" stop-color="#58b462"/><stop offset="0.8" stop-color="#84ca80"/><stop offset="1" stop-color="#b2dfaa"/></linearGradient>
<linearGradient id="gT" x1="0" y1="0" x2="1" y2="0"><stop offset="0" stop-color="#2f9149"/><stop offset="0.45" stop-color="#55b362"/><stop offset="1" stop-color="#9ad595"/></linearGradient>
<linearGradient id="gB" x1="0" y1="0" x2="0" y2="1"><stop offset="0" stop-color="#1d7a36"/><stop offset="0.6" stop-color="#3a9c52"/><stop offset="1" stop-color="#5ab763"/></linearGradient>
<linearGradient id="gCB" x1="0" y1="1" x2="0" y2="0"><stop offset="0" stop-color="#d8f0d2"/><stop offset="0.2" stop-color="#a5db9f"/><stop offset="0.42" stop-color="#55b464"/><stop offset="0.62" stop-color="#22893f"/><stop offset="0.8" stop-color="#0e6630"/><stop offset="1" stop-color="#00441b"/></linearGradient>
<g clip-path="url(#ca)">
<rect x="30.9" y="4.3" width="75.5" height="77.7" fill="#fff"/>
<g filter="url(#bl)">
<polygon points="28,2 42.8,2 42.4,4.3 41.3,5.5 38.6,8.5 37.6,10.7 39.2,14 39.8,16.2 38,18.6 35.8,21.1 34.4,22.8 28,22.8" fill="url(#gT)"/>
<polygon points="28,22.2 43,23.5 47.2,25 47.6,30 48,35.9 46.8,39.8 42.7,45.7 37.8,51.6 32.9,59.4 31,62.4 28,63.5" fill="url(#gL)"/>
<polygon points="28,41.5 38.8,44.5 36,48 31.9,51.8 28,53" fill="#2f8f47"/>
<polygon points="28.5,69.5 32.4,68.2 35.4,64.3 42.2,57.5 50.1,51.6 57.9,45.7 62.8,41.8 65.8,38.8 68,38.6 70,40.5 74,43 78,45 82,46.5 86.5,49 88,52.5 85.5,56.5 80.5,61 74.5,66 68.5,71 63.5,75 60.5,79 58,86 28,86" fill="#dcf1d6"/>
<polygon points="32.5,69.5 36.4,68.2 39.4,64.3 46.2,57.5 54.1,51.6 61.9,45.7 66.8,41.8 69.8,38.8 72,38.6 70,40.5 74,43 78,45 82,46.5 86.5,49 88,52.5 85.5,56.5 80.5,61 74.5,66 68.5,71 63.5,75 60.5,79 58,86 28,86" fill="#b0dfa8"/>
<polygon points="38,71 41.9,69.7 44.9,65.8 51.7,59 59.6,53.1 67.4,47.2 72.3,43.3 72,45 78,47.2 83,48 86,50.5 85.5,54.5 80,59.5 74,64.5 68,69.5 63,74 59.5,78.5 57,86 28,86" fill="#7ac67a"/>
</g>
<polygon points="28,72.3 30,70.4 38.7,66 48.9,60.9 59.1,55.8 66.6,53.1 70,50.9 76.8,49.5 81.9,48.7 84.3,51.6 82,55.3 76.8,60.4 69.5,65.5 63.7,69.1 57.9,72.7 48.9,75.5 40.9,74.7 40.9,86 28,86" fill="#43a659" filter="url(#bl)"/>
<polygon points="28,70.6 30,70.4 36,68.5 38,72 40.9,74.7 40.9,86 28,86" fill="#2a8a43" filter="url(#bl)"/>
<polygon points="40.9,75.1 48.9,75.8 57.9,73 56,78 52,86 40.9,86" fill="#3b9d53" filter="url(#bl)"/>
<polygon points="64,86 68,81 74,78.6 80,77.4 85,75.6 89,74.6 93,75.6 99,76.4 103,75.4 110,75 110,86" fill="#9ed797" filter="url(#bl)"/>
<polygon points="78,86 82,79.5 88,77.2 94,78.2 100,78.6 110,78 110,86" fill="#7cc67a" filter="url(#bl)"/>
<polygon points="73.1,45 73.2,38.6 74.5,35 76,32.1 78.2,29.9 81.1,28.5 84,27 83.3,24.8 84.7,22.6 87.6,20.5 89.8,19 93.5,17.5 95.6,16.1 97.1,14.6 100.7,13.9 102.9,16.1 103.6,17.5 102.6,19 101.5,21.9 99.3,24.8 97.8,27.7 96.4,29.9 91.3,29.9 86.9,29.6 84,29.9 81.1,31.4 78.2,34.3 76.9,39.4 76.7,45" fill="#80c97d" filter="url(#bl3)"/>
<polygon points="74.4,44 74.6,38.6 75.6,35.2 77,32.8 79,31 82,29.6 85.5,27.6 85.5,25 87.5,22.5 90.5,20.6 94,19 97.5,16.6 100.5,15.6 101.8,17.2 100.7,20.5 98.6,23.8 96.8,27 95.3,28.6 91,28.6 86.5,28.6 83.5,29.2 80,31.6 77.6,35 76,39.5 75.6,44" fill="#55b160" filter="url(#bl3)"/>
<path d="M85.3,2.5 L90.4,2.5 Q90.6,7 89,9.6 L87.4,9.6 Q85.2,7 85.3,2.5 Z" fill="url(#gB)" filter="url(#bl)"/>
<path d="M88,9 Q88.8,11.2 92.5,11.5 Q96,12 97.5,15" fill="none" stroke="#79c576" stroke-width="1.3" filter="url(#bl)"/>
<path d="M30.9,22.2 L50,26.4 L71.5,30.8 L74.3,34 L76.3,39.5 L79,42.3 L90,42.5 L100,41.9 L106.4,41.4" fill="none" stroke="#6a6a6a" stroke-width="0.55"/>
<path d="M43.5,29.2 L45.3,30.9 L44.6,32.3 L47.5,31.6 L53.3,33 L55.5,30.3 L59,29.6 L61.8,31.5 L63.4,34.5 L65.4,38 L67.7,40.4 L74.1,43.6 L80.5,46.1 L82.3,47.6 L84,48.5 L86.2,47.5 L88.4,48.1 L91.3,48.5 L94.2,50 L97.1,50.7 L99.3,50.7 L102.9,49 L105.8,47.5 L106.6,47.2" fill="none" stroke="#1a1a1a" stroke-width="0.6"/>
<polyline points="28,72.3 30,70.4 38.7,66 48.9,60.9 59.1,55.8 66.6,53.1 70,50.9 76.8,49.5 81.9,48.7 84.3,51.6 82,55.3 76.8,60.4 69.5,65.5 63.7,69.1 57.9,72.7 48.9,75.5" fill="none" stroke="#1a1a1a" stroke-width="0.5" stroke-dasharray="2.2,0.6"/>
<path d="M30.9,22.4 L37.3,24.4 L31.5,30.9 M30.9,41.8 L38.7,37.5 L44.5,33.8 M30.9,72 L38.3,67.8 M43.8,29.5 L44.5,37.5 L42.4,39.6 L36,45 L30.9,47.5" fill="none" stroke="#1a1a1a" stroke-width="0.45"/>
<path d="M40.4,86 L40.4,75 L48,75.5 L57.7,72.8 L61.8,71.3" fill="none" stroke="#1a1a1a" stroke-width="0.45"/>
<path d="M77.5,13.2 Q85.2,18 76.7,23.4 Q80.6,18.2 77.5,13.2 Z" fill="#fff" stroke="#333" stroke-width="0.5"/>
<text x="69.9" y="64.9" font-size="9.2" fill="#ffffff" text-anchor="middle" font-weight="bold" textLength="30" lengthAdjust="spacingAndGlyphs" transform="rotate(-44 69.9 64.9)">Joides</text>
<ellipse cx="71.9" cy="43" rx="6.9" ry="2.35" transform="rotate(28 71.9 43)" fill="none" stroke="#ee1c1c" stroke-width="1.35"/>
</g>
<rect x="30.9" y="4.3" width="75.5" height="77.7" fill="none" stroke="#b9b9b9" stroke-width="0.9"/>
<line x1="28.7" y1="4.3" x2="30.9" y2="4.3" stroke="#555" stroke-width="0.7"/>
<text x="29" y="7.8" font-size="8.3" fill="#2b2b2b" stroke="#2b2b2b" stroke-width="0.16" text-anchor="end" textLength="17.2" lengthAdjust="spacingAndGlyphs">−71</text>
<line x1="28.7" y1="23.73" x2="30.9" y2="23.73" stroke="#555" stroke-width="0.7"/>
<text x="29" y="27.23" font-size="8.3" fill="#2b2b2b" stroke="#2b2b2b" stroke-width="0.16" text-anchor="end" textLength="17.2" lengthAdjust="spacingAndGlyphs">−72</text>
<line x1="28.7" y1="43.15" x2="30.9" y2="43.15" stroke="#555" stroke-width="0.7"/>
<text x="29" y="46.65" font-size="8.3" fill="#2b2b2b" stroke="#2b2b2b" stroke-width="0.16" text-anchor="end" textLength="17.2" lengthAdjust="spacingAndGlyphs">−73</text>
<line x1="28.7" y1="62.58" x2="30.9" y2="62.58" stroke="#555" stroke-width="0.7"/>
<text x="29" y="66.08" font-size="8.3" fill="#2b2b2b" stroke="#2b2b2b" stroke-width="0.16" text-anchor="end" textLength="17.2" lengthAdjust="spacingAndGlyphs">−74</text>
<line x1="28.7" y1="82" x2="30.9" y2="82" stroke="#555" stroke-width="0.7"/>
<text x="29" y="85.5" font-size="8.3" fill="#2b2b2b" stroke="#2b2b2b" stroke-width="0.16" text-anchor="end" textLength="17.2" lengthAdjust="spacingAndGlyphs">−75</text>
<line x1="59.6" y1="82.0" x2="59.6" y2="84.2" stroke="#555" stroke-width="0.7"/>
<text x="59.6" y="91.4" font-size="8.3" fill="#2b2b2b" stroke="#2b2b2b" stroke-width="0.16" text-anchor="middle" textLength="16.4" lengthAdjust="spacingAndGlyphs">175</text>
<line x1="106.4" y1="82.0" x2="106.4" y2="84.2" stroke="#555" stroke-width="0.7"/>
<text x="106.4" y="91.4" font-size="8.3" fill="#2b2b2b" stroke="#2b2b2b" stroke-width="0.16" text-anchor="middle" textLength="16.4" lengthAdjust="spacingAndGlyphs">180</text>
<text x="64.6" y="99.9" font-size="8.4" fill="#2b2b2b" stroke="#2b2b2b" stroke-width="0.16" text-anchor="middle" textLength="56.4" lengthAdjust="spacingAndGlyphs">Longitude (°)</text>
<text x="9" y="42.6" font-size="8.4" fill="#2b2b2b" stroke="#2b2b2b" stroke-width="0.16" text-anchor="middle" textLength="47.2" lengthAdjust="spacingAndGlyphs" transform="rotate(-90 9 42.6)">Latitude (°)</text>
<rect x="111.3" y="9.0" width="4.5" height="72.7" fill="url(#gCB)"/>
<polygon points="111.3,9 115.8,9 113.55,4.1" fill="#00441b"/>
<polygon points="111.3,81.7 111.3,9 113.55,4.1 115.8,9 115.8,81.7" fill="none" stroke="#9a9a9a" stroke-width="0.5"/>
<line x1="115.8" y1="81.7" x2="117.1" y2="81.7" stroke="#777" stroke-width="0.5"/>
<text x="117.6" y="84.6" font-size="8" fill="#2b2b2b" stroke="#2b2b2b" stroke-width="0.16" textLength="3.6" lengthAdjust="spacingAndGlyphs">0</text>
<line x1="115.8" y1="63.92" x2="117.1" y2="63.92" stroke="#777" stroke-width="0.5"/>
<text x="117.6" y="66.83" font-size="8" fill="#2b2b2b" stroke="#2b2b2b" stroke-width="0.16" textLength="13.3" lengthAdjust="spacingAndGlyphs">200</text>
<line x1="115.8" y1="46.15" x2="117.1" y2="46.15" stroke="#777" stroke-width="0.5"/>
<text x="117.6" y="49.05" font-size="8" fill="#2b2b2b" stroke="#2b2b2b" stroke-width="0.16" textLength="13.3" lengthAdjust="spacingAndGlyphs">400</text>
<line x1="115.8" y1="28.37" x2="117.1" y2="28.37" stroke="#777" stroke-width="0.5"/>
<text x="117.6" y="31.27" font-size="8" fill="#2b2b2b" stroke="#2b2b2b" stroke-width="0.16" textLength="13.3" lengthAdjust="spacingAndGlyphs">600</text>
<line x1="115.8" y1="10.6" x2="117.1" y2="10.6" stroke="#777" stroke-width="0.5"/>
<text x="117.6" y="13.5" font-size="8" fill="#2b2b2b" stroke="#2b2b2b" stroke-width="0.16" textLength="13.3" lengthAdjust="spacingAndGlyphs">800</text>
<text x="137.2" y="46.7" font-size="6.3" fill="#2b2b2b" stroke="#2b2b2b" stroke-width="0.04" text-anchor="middle" textLength="90.2" lengthAdjust="spacingAndGlyphs" transform="rotate(-90 137.2 46.7)">Dense Water Thickness (m)</text>
<clipPath id="cb"><rect x="30.5" y="110.4" width="89.5" height="142.8"/></clipPath>
<line x1="61.25" y1="110.4" x2="61.25" y2="253.2" stroke="#dadada" stroke-width="0.9"/>
<line x1="91.95" y1="110.4" x2="91.95" y2="253.2" stroke="#dadada" stroke-width="0.9"/>
<line x1="30.5" y1="138.96" x2="120.0" y2="138.96" stroke="#dadada" stroke-width="0.9"/>
<line x1="30.5" y1="167.52" x2="120.0" y2="167.52" stroke="#dadada" stroke-width="0.9"/>
<line x1="30.5" y1="196.08" x2="120.0" y2="196.08" stroke="#dadada" stroke-width="0.9"/>
<line x1="30.5" y1="224.64" x2="120.0" y2="224.64" stroke="#dadada" stroke-width="0.9"/>
<g clip-path="url(#cb)">
<polygon points="41.77,110.4 40.23,117.1 40.49,117.6 40.84,118.31 41.27,119.15 41.74,120.03 42.23,120.87 42.73,121.6 43.23,122.21 43.76,122.76 44.31,123.28 44.88,123.78 45.49,124.28 46.11,124.8 46.8,125.33 47.53,125.87 48.29,126.4 49.07,126.93 49.88,127.47 50.72,128 51.59,128.52 52.51,129.03 53.44,129.53 54.4,130.05 55.37,130.6 56.35,131.2 57.3,131.84 58.22,132.53 59.15,133.24 60.14,133.97 61.22,134.73 62.42,135.5 63.78,136.28 65.28,137.08 66.87,137.9 68.5,138.74 70.13,139.61 71.72,140.5 73.32,141.44 74.97,142.43 76.62,143.45 78.22,144.47 79.72,145.46 81.06,146.4 82.23,147.29 83.26,148.13 84.2,148.96 85.05,149.77 86.1,150.58 87.23,151.4 88.35,152.24 89.42,153.1 90.45,153.96 91.42,154.8 92.34,155.62 93.18,156.4 93.93,157.11 94.57,157.76 95.16,158.39 95.72,159.03 96.29,159.72 96.71,160.5 97.02,161.36 97.32,162.28 97.62,163.24 97.91,164.27 98.18,165.35 98.43,166.5 98.67,167.76 98.92,169.13 99.14,170.57 99.34,172.01 99.5,173.41 99.59,174.7 99.63,175.88 99.62,176.99 99.57,178.05 99.49,179.09 99.37,180.13 99.22,181.2 99.05,182.29 98.85,183.37 98.61,184.45 98.29,185.54 97.88,186.66 97.44,187.8 96.98,188.97 96.51,190.17 96.01,191.38 95.47,192.61 94.89,193.85 94.26,195.1 93.58,196.33 92.86,197.54 92.1,198.77 91.29,200.03 90.53,201.37 89.71,202.8 88.79,204.36 87.79,206.02 86.72,207.75 85.62,209.51 84.52,211.28 83.45,213 82.36,214.69 81.24,216.37 80.11,218.05 79.02,219.73 78,221.41 77.09,223.1 76.29,224.8 75.57,226.5 74.92,228.2 74.34,229.9 73.81,231.6 73.33,233.3 72.9,234.99 72.54,236.69 72.24,238.38 71.98,240.06 71.76,241.74 71.56,243.4 71.41,245.16 71.3,247.05 71.22,248.93 71.17,250.67 71.14,252.14 71.1,253.2 87.3,253.2 87.34,252.14 87.39,250.67 87.46,248.93 87.55,247.05 87.68,245.16 87.85,243.4 88.06,241.74 88.3,240.06 88.57,238.38 88.89,236.69 89.27,234.99 89.71,233.3 90.2,231.6 90.75,229.9 91.35,228.2 92.01,226.5 92.74,224.8 93.56,223.1 94.49,221.41 95.52,219.73 96.63,218.05 97.77,216.37 98.92,214.69 100.02,213 101.11,211.28 102.22,209.51 103.34,207.75 104.42,206.02 105.44,204.36 106.37,202.8 107.21,201.37 107.97,200.03 108.68,198.77 109.33,197.54 109.94,196.33 110.51,195.1 111.04,193.85 111.51,192.61 111.94,191.38 112.33,190.17 112.7,188.97 113.05,187.8 113.39,186.66 113.7,185.54 113.99,184.45 114.26,183.37 114.49,182.29 114.69,181.2 114.86,180.13 115,179.09 115.12,178.05 115.19,176.99 115.23,175.88 115.22,174.7 115.16,173.41 115.04,172.01 114.87,170.57 114.68,169.13 114.48,167.76 114.27,166.5 114.04,165.35 113.8,164.27 113.54,163.24 113.27,162.28 112.98,161.36 112.7,160.5 112.52,159.72 112.5,159.03 112.45,158.39 112.36,157.76 112.23,157.11 112.06,156.4 111.84,155.62 111.58,154.8 111.28,153.96 110.94,153.1 110.55,152.24 110.11,151.4 109.64,150.58 109.07,149.77 108.29,148.96 107.43,148.13 106.47,147.29 105.38,146.4 104.12,145.46 102.72,144.47 101.21,143.45 99.65,142.43 98.09,141.44 96.57,140.5 95.07,139.61 93.51,138.74 91.95,137.9 90.44,137.08 89.02,136.28 87.72,135.5 86.59,134.73 85.58,133.97 84.66,133.24 83.79,132.53 82.93,131.84 82.04,131.2 81.12,130.6 80.2,130.05 79.32,129.53 78.47,129.03 77.64,128.52 76.85,128 76.1,127.47 75.38,126.93 74.68,126.4 74.01,125.87 73.37,125.33 72.75,124.8 72.15,124.28 71.58,123.78 71.03,123.28 70.51,122.76 70.02,122.21 69.3,121.6 68.39,120.87 67.42,120.03 66.45,119.15 65.55,118.31 64.8,117.6 64.25,117.1 69.47,110.4" fill="#0000ff" fill-opacity="0.11"/>
<polygon points="35.01,110.4 35.34,117.1 35.68,117.48 36.14,118 36.68,118.61 37.3,119.29 37.95,120 38.61,120.7 39.32,121.42 40.08,122.21 40.88,123.03 41.7,123.83 42.51,124.6 43.31,125.3 44.05,125.91 44.77,126.44 45.48,126.94 46.21,127.43 47,127.94 47.87,128.5 48.82,129.1 49.84,129.71 50.92,130.34 52.05,131 53.22,131.68 54.42,132.4 55.65,133.16 56.92,133.96 58.22,134.78 59.56,135.62 60.94,136.47 62.36,137.3 63.84,138.12 65.38,138.94 66.95,139.77 68.54,140.6 70.14,141.44 71.71,142.3 73.32,143.18 74.97,144.09 76.63,145 78.24,145.91 79.74,146.82 81.08,147.7 82.27,148.56 83.33,149.4 84.33,150.22 85.38,151.05 86.37,151.87 87.32,152.7 88.21,153.55 89.02,154.41 89.76,155.27 90.47,156.12 91.16,156.94 91.85,157.7 92.53,158.39 93.18,159.01 93.8,159.6 94.43,160.19 95.08,160.81 95.77,161.5 96.5,162.23 97.26,162.96 98.04,163.72 98.83,164.55 99.5,165.47 100,166.5 100.47,167.7 100.93,169.06 101.36,170.51 101.75,171.97 102.1,173.39 102.4,174.7 102.64,175.88 102.81,176.99 102.95,178.05 103.05,179.09 103.13,180.13 103.2,181.2 103.26,182.29 103.31,183.37 103.33,184.45 103.33,185.54 103.28,186.66 103.2,187.8 103.08,188.94 102.92,190.07 102.73,191.23 102.5,192.43 102.22,193.71 101.9,195.1 101.55,196.65 101.18,198.33 100.76,200.1 100.28,201.89 99.7,203.64 99,205.3 98.15,206.86 97.16,208.36 96.07,209.83 94.93,211.28 93.8,212.73 92.7,214.2 91.62,215.67 90.53,217.12 89.43,218.57 88.34,220.04 87.29,221.54 86.3,223.1 85.35,224.73 84.43,226.41 83.54,228.12 82.7,229.86 81.91,231.59 81.2,233.3 80.55,234.99 79.96,236.69 79.43,238.38 78.96,240.06 78.55,241.74 78.2,243.4 77.93,245.16 77.74,247.05 77.61,248.93 77.53,250.67 77.46,252.14 77.4,253.2 95.6,253.2 95.6,252.14 95.57,250.67 95.54,248.93 95.54,247.05 95.61,245.16 95.76,243.4 96,241.74 96.3,240.06 96.66,238.38 97.08,236.69 97.55,234.99 98.09,233.3 98.69,231.59 99.35,229.86 100.08,228.12 100.85,226.41 101.67,224.73 102.51,223.1 103.4,221.54 104.34,220.04 105.3,218.57 106.28,217.12 107.25,215.67 108.2,214.2 109.17,212.73 110.19,211.28 111.2,209.83 112.16,208.36 113.02,206.86 113.74,205.3 114.3,203.64 114.73,201.89 115.06,200.1 115.32,198.33 115.55,196.65 115.77,195.1 115.97,193.71 116.14,192.43 116.35,191.23 116.57,190.07 116.76,188.94 116.91,187.8 117.03,186.66 117.1,185.54 117.14,184.45 117.14,183.37 117.13,182.29 117.09,181.2 117.26,180.13 117.45,179.09 117.62,178.05 117.77,176.99 117.88,175.88 117.95,174.7 117.99,173.39 118.02,171.97 118,170.51 117.95,169.06 117.85,167.7 117.7,166.5 117.47,165.47 117.16,164.55 116.81,163.72 116.43,162.96 116.05,162.23 115.71,161.5 115.38,160.81 115.07,160.19 114.71,159.6 114.33,159.01 113.95,158.39 113.57,157.7 113.2,156.94 112.86,156.12 112.51,155.27 112.13,154.41 111.7,153.55 111.17,152.7 110.57,151.87 109.93,151.05 109.23,150.22 108.34,149.4 107.31,148.56 106.15,147.7 104.83,146.82 103.36,145.91 101.78,145 100.15,144.09 98.52,143.18 96.95,142.3 95.4,141.44 93.83,140.6 92.26,139.77 90.71,138.94 89.2,138.12 87.75,137.3 86.35,136.47 84.99,135.62 83.68,134.78 82.4,133.96 81.16,133.16 79.95,132.4 78.77,131.68 77.62,131 76.51,130.34 75.44,129.71 74.42,129.1 73.47,128.5 72.6,127.94 71.81,127.43 71.08,126.94 70.37,126.44 69.65,125.91 68.91,125.3 68.05,124.6 67.1,123.83 66.14,123.03 65.19,122.21 64.3,121.42 63.47,120.7 62.68,120 61.91,119.29 61.18,118.61 60.52,118 59.98,117.48 59.57,117.1 58.08,110.4" fill="#ff0000" fill-opacity="0.10"/>
<polyline points="53.8,110.4 52.7,117.1 53,117.6 53.4,118.31 53.88,119.15 54.4,120.03 54.95,120.87 55.5,121.6 56.04,122.21 56.61,122.76 57.19,123.28 57.8,123.78 58.44,124.28 59.1,124.8 59.79,125.33 60.5,125.87 61.23,126.4 61.99,126.93 62.78,127.47 63.6,128 64.45,128.52 65.34,129.03 66.26,129.53 67.2,130.05 68.15,130.6 69.1,131.2 70.02,131.84 70.92,132.53 71.82,133.24 72.78,133.97 73.83,134.73 75,135.5 76.33,136.28 77.8,137.08 79.35,137.9 80.95,138.74 82.55,139.61 84.1,140.5 85.66,141.44 87.27,142.43 88.88,143.45 90.44,144.47 91.9,145.46 93.2,146.4 94.33,147.29 95.34,148.13 96.24,148.96 97.06,149.77 97.84,150.58 98.6,151.4 99.34,152.24 100.03,153.1 100.67,153.96 101.26,154.8 101.81,155.62 102.3,156.4 102.72,157.11 103.08,157.76 103.38,158.39 103.66,159.03 103.92,159.72 104.2,160.5 104.49,161.36 104.78,162.28 105.06,163.24 105.32,164.27 105.57,165.35 105.8,166.5 106.02,167.76 106.23,169.13 106.43,170.57 106.6,172.01 106.73,173.41 106.8,174.7 106.82,175.88 106.79,176.99 106.71,178.05 106.6,179.09 106.46,180.13 106.3,181.2 106.11,182.29 105.88,183.37 105.63,184.45 105.34,185.54 105.03,186.66 104.7,187.8 104.35,188.97 103.99,190.17 103.61,191.38 103.19,192.61 102.72,193.85 102.2,195.1 101.63,196.33 101.03,197.54 100.39,198.77 99.69,200.03 98.93,201.37 98.1,202.8 97.18,204.36 96.17,206.02 95.09,207.75 93.99,209.51 92.88,211.28 91.8,213 90.71,214.69 89.58,216.37 88.44,218.05 87.34,219.73 86.32,221.41 85.4,223.1 84.59,224.8 83.87,226.5 83.21,228.2 82.62,229.9 82.09,231.6 81.6,233.3 81.17,234.99 80.8,236.69 80.49,238.38 80.23,240.06 80,241.74 79.8,243.4 79.64,245.16 79.52,247.05 79.44,248.93 79.38,250.67 79.34,252.14 79.3,253.2" fill="none" stroke="#1010ff" stroke-width="1.15" stroke-linejoin="round"/>
<polyline points="48.4,110.4 48.6,117.1 48.93,117.48 49.38,118 49.91,118.61 50.51,119.29 51.15,120 51.8,120.7 52.49,121.42 53.23,122.21 54.02,123.03 54.82,123.83 55.62,124.6 56.4,125.3 57.13,125.91 57.84,126.44 58.54,126.94 59.26,127.43 60.04,127.94 60.9,128.5 61.84,129.1 62.84,129.71 63.9,130.34 65,131 66.14,131.68 67.3,132.4 68.49,133.16 69.72,133.96 70.98,134.78 72.28,135.62 73.62,136.47 75,137.3 76.44,138.12 77.93,138.94 79.46,139.77 81.01,140.6 82.57,141.44 84.1,142.3 85.66,143.18 87.27,144.09 88.88,145 90.44,145.91 91.9,146.82 93.2,147.7 94.34,148.56 95.36,149.4 96.27,150.22 97.1,151.05 97.87,151.87 98.6,152.7 99.26,153.55 99.84,154.41 100.36,155.27 100.84,156.12 101.31,156.94 101.8,157.7 102.3,158.39 102.77,159.01 103.24,159.6 103.71,160.19 104.2,160.81 104.7,161.5 105.24,162.23 105.8,162.96 106.38,163.72 106.95,164.55 107.5,165.47 108,166.5 108.47,167.7 108.93,169.06 109.36,170.51 109.75,171.97 110.1,173.39 110.4,174.7 110.64,175.88 110.81,176.99 110.95,178.05 111.05,179.09 111.13,180.13 111.2,181.2 111.26,182.29 111.31,183.37 111.33,184.45 111.33,185.54 111.28,186.66 111.2,187.8 111.08,188.94 110.92,190.07 110.73,191.23 110.5,192.43 110.22,193.71 109.9,195.1 109.55,196.65 109.18,198.33 108.76,200.1 108.28,201.89 107.7,203.64 107,205.3 106.15,206.86 105.16,208.36 104.07,209.83 102.93,211.28 101.8,212.73 100.7,214.2 99.62,215.67 98.53,217.12 97.43,218.57 96.34,220.04 95.29,221.54 94.3,223.1 93.35,224.73 92.43,226.41 91.54,228.12 90.7,229.86 89.91,231.59 89.2,233.3 88.55,234.99 87.96,236.69 87.43,238.38 86.96,240.06 86.55,241.74 86.2,243.4 85.93,245.16 85.74,247.05 85.61,248.93 85.53,250.67 85.46,252.14 85.4,253.2" fill="none" stroke="#ff1a1a" stroke-width="1.15" stroke-linejoin="round"/>
</g>
<rect x="30.5" y="110.4" width="89.5" height="142.8" fill="none" stroke="#8c8c8c" stroke-width="0.9"/>
<line x1="28.3" y1="110.4" x2="30.5" y2="110.4" stroke="#8c8c8c" stroke-width="0.8"/>
<text x="28.2" y="113.2" font-size="7" fill="#333" stroke="#333" stroke-width="0.04" text-anchor="end" textLength="10.4" lengthAdjust="spacingAndGlyphs">0.0</text>
<line x1="28.3" y1="138.96" x2="30.5" y2="138.96" stroke="#8c8c8c" stroke-width="0.8"/>
<text x="28.2" y="141.76" font-size="7" fill="#333" stroke="#333" stroke-width="0.04" text-anchor="end" textLength="10.4" lengthAdjust="spacingAndGlyphs">0.2</text>
<line x1="28.3" y1="167.52" x2="30.5" y2="167.52" stroke="#8c8c8c" stroke-width="0.8"/>
<text x="28.2" y="170.32" font-size="7" fill="#333" stroke="#333" stroke-width="0.04" text-anchor="end" textLength="10.4" lengthAdjust="spacingAndGlyphs">0.4</text>
<line x1="28.3" y1="196.08" x2="30.5" y2="196.08" stroke="#8c8c8c" stroke-width="0.8"/>
<text x="28.2" y="198.88" font-size="7" fill="#333" stroke="#333" stroke-width="0.04" text-anchor="end" textLength="10.4" lengthAdjust="spacingAndGlyphs">0.6</text>
<line x1="28.3" y1="224.64" x2="30.5" y2="224.64" stroke="#8c8c8c" stroke-width="0.8"/>
<text x="28.2" y="227.44" font-size="7" fill="#333" stroke="#333" stroke-width="0.04" text-anchor="end" textLength="10.4" lengthAdjust="spacingAndGlyphs">0.8</text>
<line x1="28.3" y1="253.2" x2="30.5" y2="253.2" stroke="#8c8c8c" stroke-width="0.8"/>
<text x="28.2" y="256" font-size="7" fill="#333" stroke="#333" stroke-width="0.04" text-anchor="end" textLength="10.4" lengthAdjust="spacingAndGlyphs">1.0</text>
<line x1="30.55" y1="253.2" x2="30.55" y2="255.4" stroke="#8c8c8c" stroke-width="0.8"/>
<text x="30.55" y="261.2" font-size="6.6" fill="#333" stroke="#333" stroke-width="0.04" text-anchor="middle" textLength="7.6" lengthAdjust="spacingAndGlyphs">−2</text>
<line x1="61.25" y1="253.2" x2="61.25" y2="255.4" stroke="#8c8c8c" stroke-width="0.8"/>
<text x="61.25" y="261.2" font-size="6.6" fill="#333" stroke="#333" stroke-width="0.04" text-anchor="middle" textLength="7.6" lengthAdjust="spacingAndGlyphs">−1</text>
<line x1="91.95" y1="253.2" x2="91.95" y2="255.4" stroke="#8c8c8c" stroke-width="0.8"/>
<text x="91.95" y="261.2" font-size="6.6" fill="#333" stroke="#333" stroke-width="0.04" text-anchor="middle" textLength="3.7" lengthAdjust="spacingAndGlyphs">0</text>
<text x="75.6" y="269.7" font-size="8.4" fill="#333" stroke="#333" stroke-width="0.16" text-anchor="middle" textLength="70" lengthAdjust="spacingAndGlyphs">Temperature (°C)</text>
<text x="13.9" y="181.5" font-size="7.6" fill="#333" stroke="#333" stroke-width="0.04" text-anchor="middle" textLength="75.6" lengthAdjust="spacingAndGlyphs" transform="rotate(-90 13.9 181.5)">Standardized Depth</text>
<text x="93" y="125.1" font-size="10.3" fill="#ff2020" stroke="#ff2020" stroke-width="0.12" textLength="26.6" lengthAdjust="spacingAndGlyphs">Mean</text>
<text x="46" y="189.4" font-size="10.3" fill="#1a1aff" stroke="#1a1aff" stroke-width="0.12" textLength="41.8" lengthAdjust="spacingAndGlyphs">Low SSH</text>
</svg></body></html>
